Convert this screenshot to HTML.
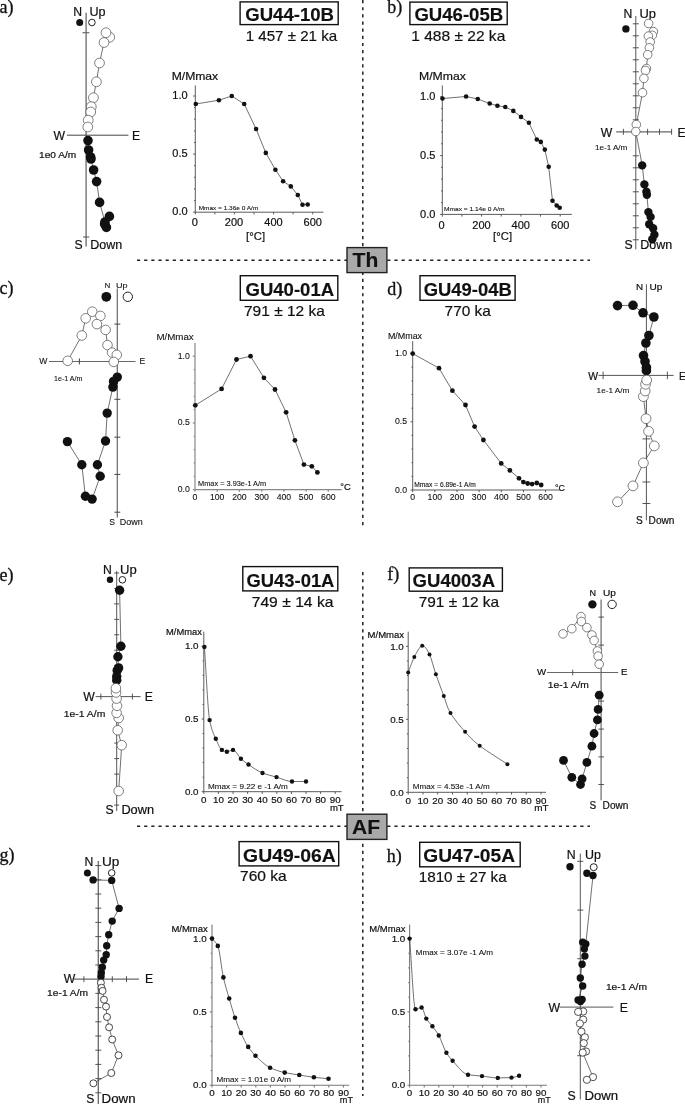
<!DOCTYPE html>
<html lang="en">
<head>
<meta charset="utf-8">
<title>Demagnetization diagrams</title>
<style>
html,body{margin:0;padding:0;background:#fff;}
body{width:685px;height:1104px;overflow:hidden;}
svg{display:block;}
.f{font-family:'Liberation Sans', Arial, Helvetica, sans-serif;}
.r{font-family:'Liberation Serif', 'Times New Roman', serif;}
</style>
</head>
<body>
<svg width="685" height="1104" viewBox="0 0 685 1104">
<rect width="685" height="1104" fill="#fff"/>
<path d="M362.8,0 V529" stroke="#222" stroke-width="1.5" stroke-dasharray="3.2 3.95" fill="none"/>
<path d="M362.8,572 V1096" stroke="#222" stroke-width="1.5" stroke-dasharray="3.2 3.95" fill="none"/>
<path d="M137,260.2 H590" stroke="#222" stroke-width="1.5" stroke-dasharray="3.2 3.95" fill="none"/>
<path d="M137,826.3 H590" stroke="#222" stroke-width="1.5" stroke-dasharray="3.2 3.95" fill="none"/>
<rect x="347" y="247.6" width="39.9" height="25" fill="#a9a9a9" stroke="#222" stroke-width="1.4"/>
<text class="f" x="352.6" y="266.8" font-size="21" font-weight="bold" fill="#111" stroke="#111" stroke-width="0.15">Th</text>
<rect x="347" y="814.2" width="39.9" height="25.2" fill="#a9a9a9" stroke="#222" stroke-width="1.4"/>
<text class="f" x="352.0" y="833.9" font-size="21" font-weight="bold" fill="#111" stroke="#111" stroke-width="0.15">AF</text>
<text class="r" x="-0.6" y="12.8" font-size="18" fill="#111" stroke="#111" stroke-width="0.3">a)</text>
<text class="r" x="387.2" y="12.8" font-size="18" fill="#111" stroke="#111" stroke-width="0.3">b)</text>
<text class="r" x="-0.6" y="294.2" font-size="18" fill="#111" stroke="#111" stroke-width="0.3">c)</text>
<text class="r" x="387.2" y="294.9" font-size="18" fill="#111" stroke="#111" stroke-width="0.3">d)</text>
<text class="r" x="-0.6" y="580.6" font-size="18" fill="#111" stroke="#111" stroke-width="0.3">e)</text>
<text class="r" x="387.2" y="580.3" font-size="18" fill="#111" stroke="#111" stroke-width="0.3">f)</text>
<text class="r" x="-0.6" y="860.6" font-size="18" fill="#111" stroke="#111" stroke-width="0.3">g)</text>
<text class="r" x="386.8" y="861.5" font-size="18" fill="#111" stroke="#111" stroke-width="0.3">h)</text>
<rect x="240.1" y="1.9" width="98.1" height="22.7" fill="#fff" stroke="#111" stroke-width="1.4"/>
<text class="f" x="245.2" y="20.6" font-size="18.6" font-weight="bold" textLength="88.8" lengthAdjust="spacingAndGlyphs" fill="#111" stroke="#111" stroke-width="0.15">GU44-10B</text>
<text class="f" x="245.7" y="40.9" font-size="14.6" textLength="91.5" lengthAdjust="spacingAndGlyphs" fill="#111" stroke="#111" stroke-width="0.2">1 457 ± 21 ka</text>
<rect x="409.9" y="2.1" width="97.3" height="22.5" fill="#fff" stroke="#111" stroke-width="1.4"/>
<text class="f" x="414.4" y="20.6" font-size="18.6" font-weight="bold" textLength="88.8" lengthAdjust="spacingAndGlyphs" fill="#111" stroke="#111" stroke-width="0.15">GU46-05B</text>
<text class="f" x="411.2" y="41.4" font-size="14.6" textLength="94.1" lengthAdjust="spacingAndGlyphs" fill="#111" stroke="#111" stroke-width="0.2">1 488 ± 22 ka</text>
<rect x="240.3" y="275.7" width="97.5" height="24.6" fill="#fff" stroke="#111" stroke-width="1.4"/>
<text class="f" x="245.5" y="295.7" font-size="18.6" font-weight="bold" textLength="88.6" lengthAdjust="spacingAndGlyphs" fill="#111" stroke="#111" stroke-width="0.15">GU40-01A</text>
<text class="f" x="244.0" y="315.6" font-size="14.6" textLength="80.9" lengthAdjust="spacingAndGlyphs" fill="#111" stroke="#111" stroke-width="0.2">791 ± 12 ka</text>
<rect x="420.0" y="275.7" width="95.1" height="24.6" fill="#fff" stroke="#111" stroke-width="1.4"/>
<text class="f" x="423.7" y="295.7" font-size="18.6" font-weight="bold" textLength="88.0" lengthAdjust="spacingAndGlyphs" fill="#111" stroke="#111" stroke-width="0.15">GU49-04B</text>
<text class="f" x="444.6" y="316.2" font-size="14.6" textLength="46.3" lengthAdjust="spacingAndGlyphs" fill="#111" stroke="#111" stroke-width="0.2">770 ka</text>
<rect x="242.8" y="566.6" width="95.0" height="24.3" fill="#fff" stroke="#111" stroke-width="1.4"/>
<text class="f" x="246.5" y="586.6" font-size="18.6" font-weight="bold" textLength="87.9" lengthAdjust="spacingAndGlyphs" fill="#111" stroke="#111" stroke-width="0.15">GU43-01A</text>
<text class="f" x="251.7" y="607.1" font-size="14.6" textLength="81.8" lengthAdjust="spacingAndGlyphs" fill="#111" stroke="#111" stroke-width="0.2">749 ± 14 ka</text>
<rect x="409.2" y="567.9" width="93.2" height="23.3" fill="#fff" stroke="#111" stroke-width="1.4"/>
<text class="f" x="412.6" y="586.6" font-size="18.6" font-weight="bold" textLength="82.5" lengthAdjust="spacingAndGlyphs" fill="#111" stroke="#111" stroke-width="0.15">GU4003A</text>
<text class="f" x="418.7" y="607.1" font-size="14.6" textLength="80.4" lengthAdjust="spacingAndGlyphs" fill="#111" stroke="#111" stroke-width="0.2">791 ± 12 ka</text>
<rect x="239.1" y="841.6" width="99.6" height="24.3" fill="#fff" stroke="#111" stroke-width="1.4"/>
<text class="f" x="243.1" y="861.6" font-size="18.8" font-weight="bold" textLength="92.6" lengthAdjust="spacingAndGlyphs" fill="#111" stroke="#111" stroke-width="0.15">GU49-06A</text>
<text class="f" x="240.0" y="881.2" font-size="14.6" textLength="46.6" lengthAdjust="spacingAndGlyphs" fill="#111" stroke="#111" stroke-width="0.2">760 ka</text>
<rect x="419.7" y="842.3" width="100.5" height="24.5" fill="#fff" stroke="#111" stroke-width="1.4"/>
<text class="f" x="423.3" y="862.2" font-size="18.8" font-weight="bold" textLength="91.7" lengthAdjust="spacingAndGlyphs" fill="#111" stroke="#111" stroke-width="0.15">GU47-05A</text>
<text class="f" x="418.7" y="882.1" font-size="14.6" textLength="88.0" lengthAdjust="spacingAndGlyphs" fill="#111" stroke="#111" stroke-width="0.2">1810 ± 27 ka</text>
<line x1="195.3" y1="85.4" x2="195.3" y2="212.2" stroke="#4a4a4a" stroke-width="0.9"/>
<line x1="195.3" y1="212.2" x2="323.4" y2="212.2" stroke="#4a4a4a" stroke-width="0.9"/>
<line x1="193.1" y1="212.2" x2="195.3" y2="212.2" stroke="#4a4a4a" stroke-width="0.9"/>
<line x1="194.0" y1="200.6" x2="195.3" y2="200.6" stroke="#4a4a4a" stroke-width="0.9"/>
<line x1="194.0" y1="189.0" x2="195.3" y2="189.0" stroke="#4a4a4a" stroke-width="0.9"/>
<line x1="194.0" y1="177.3" x2="195.3" y2="177.3" stroke="#4a4a4a" stroke-width="0.9"/>
<line x1="194.0" y1="165.7" x2="195.3" y2="165.7" stroke="#4a4a4a" stroke-width="0.9"/>
<line x1="193.1" y1="154.1" x2="195.3" y2="154.1" stroke="#4a4a4a" stroke-width="0.9"/>
<line x1="194.0" y1="142.5" x2="195.3" y2="142.5" stroke="#4a4a4a" stroke-width="0.9"/>
<line x1="194.0" y1="130.9" x2="195.3" y2="130.9" stroke="#4a4a4a" stroke-width="0.9"/>
<line x1="194.0" y1="119.2" x2="195.3" y2="119.2" stroke="#4a4a4a" stroke-width="0.9"/>
<line x1="194.0" y1="107.6" x2="195.3" y2="107.6" stroke="#4a4a4a" stroke-width="0.9"/>
<line x1="193.1" y1="96.0" x2="195.3" y2="96.0" stroke="#4a4a4a" stroke-width="0.9"/>
<line x1="195.3" y1="212.2" x2="195.3" y2="214.4" stroke="#4a4a4a" stroke-width="0.9"/>
<line x1="214.9" y1="212.2" x2="214.9" y2="214.4" stroke="#4a4a4a" stroke-width="0.9"/>
<line x1="234.4" y1="212.2" x2="234.4" y2="214.4" stroke="#4a4a4a" stroke-width="0.9"/>
<line x1="254.0" y1="212.2" x2="254.0" y2="214.4" stroke="#4a4a4a" stroke-width="0.9"/>
<line x1="273.6" y1="212.2" x2="273.6" y2="214.4" stroke="#4a4a4a" stroke-width="0.9"/>
<line x1="293.1" y1="212.2" x2="293.1" y2="214.4" stroke="#4a4a4a" stroke-width="0.9"/>
<line x1="312.7" y1="212.2" x2="312.7" y2="214.4" stroke="#4a4a4a" stroke-width="0.9"/>
<text class="f" x="194.8" y="226.3" font-size="11" text-anchor="middle" fill="#111" stroke="#111" stroke-width="0.2">0</text>
<text class="f" x="234.0" y="226.3" font-size="11" text-anchor="middle" fill="#111" stroke="#111" stroke-width="0.2">200</text>
<text class="f" x="273.5" y="226.3" font-size="11" text-anchor="middle" fill="#111" stroke="#111" stroke-width="0.2">400</text>
<text class="f" x="312.7" y="226.3" font-size="11" text-anchor="middle" fill="#111" stroke="#111" stroke-width="0.2">600</text>
<text class="f" x="187.6" y="99.2" font-size="11" text-anchor="end" fill="#111" stroke="#111" stroke-width="0.2">1.0</text>
<text class="f" x="187.6" y="157.3" font-size="11" text-anchor="end" fill="#111" stroke="#111" stroke-width="0.2">0.5</text>
<text class="f" x="187.6" y="215.4" font-size="11" text-anchor="end" fill="#111" stroke="#111" stroke-width="0.2">0.0</text>
<text class="f" x="171.7" y="80.3" font-size="11.0" textLength="46.5" lengthAdjust="spacingAndGlyphs" fill="#111" stroke="#111" stroke-width="0.2">M/Mmax</text>
<text class="f" x="255.6" y="240.0" font-size="11.3" text-anchor="middle" fill="#111" stroke="#111" stroke-width="0.2">[°C]</text>
<text class="f" x="198.7" y="209.7" font-size="6.2" textLength="59.6" lengthAdjust="spacingAndGlyphs" fill="#111" stroke="#111" stroke-width="0.1">Mmax = 1.36e 0 A/m</text>
<polyline points="195.8,104.0 218.9,100.2 231.8,96.0 244.2,104.0 256.1,129.0 265.8,152.9 275.4,169.7 283.1,181.2 290.8,186.4 297.8,195.0 302.5,204.7 307.7,204.5" fill="none" stroke="#333" stroke-width="0.7"/>
<circle cx="195.8" cy="104.0" r="2.3" fill="#111"/>
<circle cx="218.9" cy="100.2" r="2.3" fill="#111"/>
<circle cx="231.8" cy="96.0" r="2.3" fill="#111"/>
<circle cx="244.2" cy="104.0" r="2.3" fill="#111"/>
<circle cx="256.1" cy="129.0" r="2.3" fill="#111"/>
<circle cx="265.8" cy="152.9" r="2.3" fill="#111"/>
<circle cx="275.4" cy="169.7" r="2.3" fill="#111"/>
<circle cx="283.1" cy="181.2" r="2.3" fill="#111"/>
<circle cx="290.8" cy="186.4" r="2.3" fill="#111"/>
<circle cx="297.8" cy="195.0" r="2.3" fill="#111"/>
<circle cx="302.5" cy="204.7" r="2.3" fill="#111"/>
<circle cx="307.7" cy="204.5" r="2.3" fill="#111"/>
<line x1="442.3" y1="85.4" x2="442.3" y2="214.4" stroke="#4a4a4a" stroke-width="0.9"/>
<line x1="442.3" y1="214.4" x2="571.8" y2="214.4" stroke="#4a4a4a" stroke-width="0.9"/>
<line x1="440.1" y1="214.4" x2="442.3" y2="214.4" stroke="#4a4a4a" stroke-width="0.9"/>
<line x1="441.0" y1="202.6" x2="442.3" y2="202.6" stroke="#4a4a4a" stroke-width="0.9"/>
<line x1="441.0" y1="190.9" x2="442.3" y2="190.9" stroke="#4a4a4a" stroke-width="0.9"/>
<line x1="441.0" y1="179.1" x2="442.3" y2="179.1" stroke="#4a4a4a" stroke-width="0.9"/>
<line x1="441.0" y1="167.4" x2="442.3" y2="167.4" stroke="#4a4a4a" stroke-width="0.9"/>
<line x1="440.1" y1="155.6" x2="442.3" y2="155.6" stroke="#4a4a4a" stroke-width="0.9"/>
<line x1="441.0" y1="143.8" x2="442.3" y2="143.8" stroke="#4a4a4a" stroke-width="0.9"/>
<line x1="441.0" y1="132.1" x2="442.3" y2="132.1" stroke="#4a4a4a" stroke-width="0.9"/>
<line x1="441.0" y1="120.3" x2="442.3" y2="120.3" stroke="#4a4a4a" stroke-width="0.9"/>
<line x1="441.0" y1="108.6" x2="442.3" y2="108.6" stroke="#4a4a4a" stroke-width="0.9"/>
<line x1="440.1" y1="96.8" x2="442.3" y2="96.8" stroke="#4a4a4a" stroke-width="0.9"/>
<line x1="442.3" y1="214.4" x2="442.3" y2="216.6" stroke="#4a4a4a" stroke-width="0.9"/>
<line x1="461.9" y1="214.4" x2="461.9" y2="216.6" stroke="#4a4a4a" stroke-width="0.9"/>
<line x1="481.6" y1="214.4" x2="481.6" y2="216.6" stroke="#4a4a4a" stroke-width="0.9"/>
<line x1="501.2" y1="214.4" x2="501.2" y2="216.6" stroke="#4a4a4a" stroke-width="0.9"/>
<line x1="520.9" y1="214.4" x2="520.9" y2="216.6" stroke="#4a4a4a" stroke-width="0.9"/>
<line x1="540.5" y1="214.4" x2="540.5" y2="216.6" stroke="#4a4a4a" stroke-width="0.9"/>
<line x1="560.2" y1="214.4" x2="560.2" y2="216.6" stroke="#4a4a4a" stroke-width="0.9"/>
<text class="f" x="441.5" y="228.8" font-size="11" text-anchor="middle" fill="#111" stroke="#111" stroke-width="0.2">0</text>
<text class="f" x="481.5" y="228.8" font-size="11" text-anchor="middle" fill="#111" stroke="#111" stroke-width="0.2">200</text>
<text class="f" x="520.7" y="228.8" font-size="11" text-anchor="middle" fill="#111" stroke="#111" stroke-width="0.2">400</text>
<text class="f" x="560.2" y="228.8" font-size="11" text-anchor="middle" fill="#111" stroke="#111" stroke-width="0.2">600</text>
<text class="f" x="435.4" y="100.2" font-size="11" text-anchor="end" fill="#111" stroke="#111" stroke-width="0.2">1.0</text>
<text class="f" x="435.4" y="159.0" font-size="11" text-anchor="end" fill="#111" stroke="#111" stroke-width="0.2">0.5</text>
<text class="f" x="435.4" y="217.8" font-size="11" text-anchor="end" fill="#111" stroke="#111" stroke-width="0.2">0.0</text>
<text class="f" x="419.0" y="80.1" font-size="11.0" textLength="46.8" lengthAdjust="spacingAndGlyphs" fill="#111" stroke="#111" stroke-width="0.2">M/Mmax</text>
<text class="f" x="502.6" y="240.0" font-size="11.3" text-anchor="middle" fill="#111" stroke="#111" stroke-width="0.2">[°C]</text>
<text class="f" x="444.0" y="211.4" font-size="6.2" textLength="60.6" lengthAdjust="spacingAndGlyphs" fill="#111" stroke="#111" stroke-width="0.1">Mmax = 1.14e 0 A/m</text>
<polyline points="442.5,98.5 466.1,96.5 477.8,99.0 489.7,103.5 497.4,105.7 505.3,107.0 513.3,110.9 521.0,116.9 528.9,122.8 536.8,139.5 540.8,141.9 544.8,149.6 548.7,166.8 552.5,200.8 556.7,205.5 559.7,207.7" fill="none" stroke="#333" stroke-width="0.7"/>
<circle cx="442.5" cy="98.5" r="2.3" fill="#111"/>
<circle cx="466.1" cy="96.5" r="2.3" fill="#111"/>
<circle cx="477.8" cy="99.0" r="2.3" fill="#111"/>
<circle cx="489.7" cy="103.5" r="2.3" fill="#111"/>
<circle cx="497.4" cy="105.7" r="2.3" fill="#111"/>
<circle cx="505.3" cy="107.0" r="2.3" fill="#111"/>
<circle cx="513.3" cy="110.9" r="2.3" fill="#111"/>
<circle cx="521.0" cy="116.9" r="2.3" fill="#111"/>
<circle cx="528.9" cy="122.8" r="2.3" fill="#111"/>
<circle cx="536.8" cy="139.5" r="2.3" fill="#111"/>
<circle cx="540.8" cy="141.9" r="2.3" fill="#111"/>
<circle cx="544.8" cy="149.6" r="2.3" fill="#111"/>
<circle cx="548.7" cy="166.8" r="2.3" fill="#111"/>
<circle cx="552.5" cy="200.8" r="2.3" fill="#111"/>
<circle cx="556.7" cy="205.5" r="2.3" fill="#111"/>
<circle cx="559.7" cy="207.7" r="2.3" fill="#111"/>
<line x1="195.0" y1="343.1" x2="195.0" y2="489.6" stroke="#888" stroke-width="1.2"/>
<line x1="195.0" y1="489.6" x2="341.7" y2="489.6" stroke="#888" stroke-width="1.2"/>
<line x1="192.8" y1="489.6" x2="195.0" y2="489.6" stroke="#888" stroke-width="1.2"/>
<line x1="193.7" y1="476.3" x2="195.0" y2="476.3" stroke="#888" stroke-width="1.2"/>
<line x1="193.7" y1="462.9" x2="195.0" y2="462.9" stroke="#888" stroke-width="1.2"/>
<line x1="193.7" y1="449.6" x2="195.0" y2="449.6" stroke="#888" stroke-width="1.2"/>
<line x1="193.7" y1="436.3" x2="195.0" y2="436.3" stroke="#888" stroke-width="1.2"/>
<line x1="192.8" y1="423.0" x2="195.0" y2="423.0" stroke="#888" stroke-width="1.2"/>
<line x1="193.7" y1="409.6" x2="195.0" y2="409.6" stroke="#888" stroke-width="1.2"/>
<line x1="193.7" y1="396.3" x2="195.0" y2="396.3" stroke="#888" stroke-width="1.2"/>
<line x1="193.7" y1="383.0" x2="195.0" y2="383.0" stroke="#888" stroke-width="1.2"/>
<line x1="193.7" y1="369.6" x2="195.0" y2="369.6" stroke="#888" stroke-width="1.2"/>
<line x1="192.8" y1="356.3" x2="195.0" y2="356.3" stroke="#888" stroke-width="1.2"/>
<line x1="195.0" y1="489.6" x2="195.0" y2="491.8" stroke="#888" stroke-width="1.2"/>
<line x1="217.2" y1="489.6" x2="217.2" y2="491.8" stroke="#888" stroke-width="1.2"/>
<line x1="239.4" y1="489.6" x2="239.4" y2="491.8" stroke="#888" stroke-width="1.2"/>
<line x1="261.7" y1="489.6" x2="261.7" y2="491.8" stroke="#888" stroke-width="1.2"/>
<line x1="283.9" y1="489.6" x2="283.9" y2="491.8" stroke="#888" stroke-width="1.2"/>
<line x1="306.1" y1="489.6" x2="306.1" y2="491.8" stroke="#888" stroke-width="1.2"/>
<line x1="328.3" y1="489.6" x2="328.3" y2="491.8" stroke="#888" stroke-width="1.2"/>
<text class="f" x="195.0" y="499.9" font-size="8.7" text-anchor="middle" fill="#111" stroke="#111" stroke-width="0.1">0</text>
<text class="f" x="217.2" y="499.9" font-size="8.7" text-anchor="middle" fill="#111" stroke="#111" stroke-width="0.1">100</text>
<text class="f" x="239.4" y="499.9" font-size="8.7" text-anchor="middle" fill="#111" stroke="#111" stroke-width="0.1">200</text>
<text class="f" x="261.7" y="499.9" font-size="8.7" text-anchor="middle" fill="#111" stroke="#111" stroke-width="0.1">300</text>
<text class="f" x="283.9" y="499.9" font-size="8.7" text-anchor="middle" fill="#111" stroke="#111" stroke-width="0.1">400</text>
<text class="f" x="306.1" y="499.9" font-size="8.7" text-anchor="middle" fill="#111" stroke="#111" stroke-width="0.1">500</text>
<text class="f" x="328.3" y="499.9" font-size="8.7" text-anchor="middle" fill="#111" stroke="#111" stroke-width="0.1">600</text>
<text class="f" x="189.8" y="358.7" font-size="8.7" text-anchor="end" fill="#111" stroke="#111" stroke-width="0.1">1.0</text>
<text class="f" x="189.8" y="425.4" font-size="8.7" text-anchor="end" fill="#111" stroke="#111" stroke-width="0.1">0.5</text>
<text class="f" x="189.8" y="492.0" font-size="8.7" text-anchor="end" fill="#111" stroke="#111" stroke-width="0.1">0.0</text>
<text class="f" x="156.4" y="339.8" font-size="8.9" textLength="37.3" lengthAdjust="spacingAndGlyphs" fill="#111" stroke="#111" stroke-width="0.1">M/Mmax</text>
<text class="f" x="340.3" y="490.4" font-size="9.3" textLength="10.5" lengthAdjust="spacingAndGlyphs" fill="#111" stroke="#111" stroke-width="0.2">°C</text>
<text class="f" x="198.1" y="486.0" font-size="6.9" textLength="68.1" lengthAdjust="spacingAndGlyphs" fill="#111" stroke="#111" stroke-width="0.1">Mmax = 3.93e-1 A/m</text>
<polyline points="195.3,405.3 221.6,388.9 236.5,359.5 250.5,356.2 263.9,377.8 275.0,389.5 286.1,412.3 294.9,440.3 303.9,464.6 311.8,466.3 317.4,472.4" fill="none" stroke="#333" stroke-width="0.7"/>
<circle cx="195.3" cy="405.3" r="2.4" fill="#111"/>
<circle cx="221.6" cy="388.9" r="2.4" fill="#111"/>
<circle cx="236.5" cy="359.5" r="2.4" fill="#111"/>
<circle cx="250.5" cy="356.2" r="2.4" fill="#111"/>
<circle cx="263.9" cy="377.8" r="2.4" fill="#111"/>
<circle cx="275.0" cy="389.5" r="2.4" fill="#111"/>
<circle cx="286.1" cy="412.3" r="2.4" fill="#111"/>
<circle cx="294.9" cy="440.3" r="2.4" fill="#111"/>
<circle cx="303.9" cy="464.6" r="2.4" fill="#111"/>
<circle cx="311.8" cy="466.3" r="2.4" fill="#111"/>
<circle cx="317.4" cy="472.4" r="2.4" fill="#111"/>
<line x1="412.7" y1="341.0" x2="412.7" y2="490.0" stroke="#4a4a4a" stroke-width="0.9"/>
<line x1="412.7" y1="490.0" x2="559.6" y2="490.0" stroke="#4a4a4a" stroke-width="0.9"/>
<line x1="410.5" y1="490.0" x2="412.7" y2="490.0" stroke="#4a4a4a" stroke-width="0.9"/>
<line x1="411.4" y1="476.4" x2="412.7" y2="476.4" stroke="#4a4a4a" stroke-width="0.9"/>
<line x1="411.4" y1="462.7" x2="412.7" y2="462.7" stroke="#4a4a4a" stroke-width="0.9"/>
<line x1="411.4" y1="449.1" x2="412.7" y2="449.1" stroke="#4a4a4a" stroke-width="0.9"/>
<line x1="411.4" y1="435.4" x2="412.7" y2="435.4" stroke="#4a4a4a" stroke-width="0.9"/>
<line x1="410.5" y1="421.8" x2="412.7" y2="421.8" stroke="#4a4a4a" stroke-width="0.9"/>
<line x1="411.4" y1="408.2" x2="412.7" y2="408.2" stroke="#4a4a4a" stroke-width="0.9"/>
<line x1="411.4" y1="394.5" x2="412.7" y2="394.5" stroke="#4a4a4a" stroke-width="0.9"/>
<line x1="411.4" y1="380.9" x2="412.7" y2="380.9" stroke="#4a4a4a" stroke-width="0.9"/>
<line x1="411.4" y1="367.2" x2="412.7" y2="367.2" stroke="#4a4a4a" stroke-width="0.9"/>
<line x1="410.5" y1="353.6" x2="412.7" y2="353.6" stroke="#4a4a4a" stroke-width="0.9"/>
<line x1="412.7" y1="490.0" x2="412.7" y2="492.2" stroke="#4a4a4a" stroke-width="0.9"/>
<line x1="434.8" y1="490.0" x2="434.8" y2="492.2" stroke="#4a4a4a" stroke-width="0.9"/>
<line x1="457.0" y1="490.0" x2="457.0" y2="492.2" stroke="#4a4a4a" stroke-width="0.9"/>
<line x1="479.1" y1="490.0" x2="479.1" y2="492.2" stroke="#4a4a4a" stroke-width="0.9"/>
<line x1="501.3" y1="490.0" x2="501.3" y2="492.2" stroke="#4a4a4a" stroke-width="0.9"/>
<line x1="523.5" y1="490.0" x2="523.5" y2="492.2" stroke="#4a4a4a" stroke-width="0.9"/>
<line x1="545.6" y1="490.0" x2="545.6" y2="492.2" stroke="#4a4a4a" stroke-width="0.9"/>
<text class="f" x="412.7" y="500.4" font-size="8.7" text-anchor="middle" fill="#111" stroke="#111" stroke-width="0.1">0</text>
<text class="f" x="434.8" y="500.4" font-size="8.7" text-anchor="middle" fill="#111" stroke="#111" stroke-width="0.1">100</text>
<text class="f" x="457.0" y="500.4" font-size="8.7" text-anchor="middle" fill="#111" stroke="#111" stroke-width="0.1">200</text>
<text class="f" x="479.1" y="500.4" font-size="8.7" text-anchor="middle" fill="#111" stroke="#111" stroke-width="0.1">300</text>
<text class="f" x="501.3" y="500.4" font-size="8.7" text-anchor="middle" fill="#111" stroke="#111" stroke-width="0.1">400</text>
<text class="f" x="523.5" y="500.4" font-size="8.7" text-anchor="middle" fill="#111" stroke="#111" stroke-width="0.1">500</text>
<text class="f" x="545.6" y="500.4" font-size="8.7" text-anchor="middle" fill="#111" stroke="#111" stroke-width="0.1">600</text>
<text class="f" x="407.1" y="356.1" font-size="8.7" text-anchor="end" fill="#111" stroke="#111" stroke-width="0.1">1.0</text>
<text class="f" x="407.1" y="424.3" font-size="8.7" text-anchor="end" fill="#111" stroke="#111" stroke-width="0.1">0.5</text>
<text class="f" x="407.1" y="492.5" font-size="8.7" text-anchor="end" fill="#111" stroke="#111" stroke-width="0.1">0.0</text>
<text class="f" x="387.9" y="339.0" font-size="8.4" textLength="34.2" lengthAdjust="spacingAndGlyphs" fill="#111" stroke="#111" stroke-width="0.1">M/Mmax</text>
<text class="f" x="554.9" y="491.4" font-size="9.3" textLength="9.9" lengthAdjust="spacingAndGlyphs" fill="#111" stroke="#111" stroke-width="0.2">°C</text>
<text class="f" x="414.2" y="487.0" font-size="6.4" textLength="61.6" lengthAdjust="spacingAndGlyphs" fill="#111" stroke="#111" stroke-width="0.1">Mmax = 6.89e-1 A/m</text>
<polyline points="412.7,353.6 439.0,368.2 452.4,390.7 465.5,405.0 474.6,426.6 483.4,440.0 501.2,463.4 509.9,470.4 519.0,478.3 523.4,482.1 527.7,483.5 532.1,484.1 536.8,483.0 541.2,485.0" fill="none" stroke="#333" stroke-width="0.7"/>
<circle cx="412.7" cy="353.6" r="2.4" fill="#111"/>
<circle cx="439.0" cy="368.2" r="2.4" fill="#111"/>
<circle cx="452.4" cy="390.7" r="2.4" fill="#111"/>
<circle cx="465.5" cy="405.0" r="2.4" fill="#111"/>
<circle cx="474.6" cy="426.6" r="2.4" fill="#111"/>
<circle cx="483.4" cy="440.0" r="2.4" fill="#111"/>
<circle cx="501.2" cy="463.4" r="2.4" fill="#111"/>
<circle cx="509.9" cy="470.4" r="2.4" fill="#111"/>
<circle cx="519.0" cy="478.3" r="2.4" fill="#111"/>
<circle cx="523.4" cy="482.1" r="2.4" fill="#111"/>
<circle cx="527.7" cy="483.5" r="2.4" fill="#111"/>
<circle cx="532.1" cy="484.1" r="2.4" fill="#111"/>
<circle cx="536.8" cy="483.0" r="2.4" fill="#111"/>
<circle cx="541.2" cy="485.0" r="2.4" fill="#111"/>
<line x1="203.8" y1="631.7" x2="203.8" y2="791.7" stroke="#4a4a4a" stroke-width="0.9"/>
<line x1="203.8" y1="791.7" x2="341.6" y2="791.7" stroke="#4a4a4a" stroke-width="0.9"/>
<line x1="201.6" y1="791.7" x2="203.8" y2="791.7" stroke="#4a4a4a" stroke-width="0.9"/>
<line x1="202.5" y1="777.2" x2="203.8" y2="777.2" stroke="#4a4a4a" stroke-width="0.9"/>
<line x1="202.5" y1="762.6" x2="203.8" y2="762.6" stroke="#4a4a4a" stroke-width="0.9"/>
<line x1="202.5" y1="748.1" x2="203.8" y2="748.1" stroke="#4a4a4a" stroke-width="0.9"/>
<line x1="202.5" y1="733.5" x2="203.8" y2="733.5" stroke="#4a4a4a" stroke-width="0.9"/>
<line x1="201.6" y1="719.0" x2="203.8" y2="719.0" stroke="#4a4a4a" stroke-width="0.9"/>
<line x1="202.5" y1="704.5" x2="203.8" y2="704.5" stroke="#4a4a4a" stroke-width="0.9"/>
<line x1="202.5" y1="689.9" x2="203.8" y2="689.9" stroke="#4a4a4a" stroke-width="0.9"/>
<line x1="202.5" y1="675.4" x2="203.8" y2="675.4" stroke="#4a4a4a" stroke-width="0.9"/>
<line x1="202.5" y1="660.8" x2="203.8" y2="660.8" stroke="#4a4a4a" stroke-width="0.9"/>
<line x1="201.6" y1="646.3" x2="203.8" y2="646.3" stroke="#4a4a4a" stroke-width="0.9"/>
<line x1="203.8" y1="791.7" x2="203.8" y2="793.9" stroke="#4a4a4a" stroke-width="0.9"/>
<line x1="218.4" y1="791.7" x2="218.4" y2="793.9" stroke="#4a4a4a" stroke-width="0.9"/>
<line x1="233.0" y1="791.7" x2="233.0" y2="793.9" stroke="#4a4a4a" stroke-width="0.9"/>
<line x1="247.6" y1="791.7" x2="247.6" y2="793.9" stroke="#4a4a4a" stroke-width="0.9"/>
<line x1="262.2" y1="791.7" x2="262.2" y2="793.9" stroke="#4a4a4a" stroke-width="0.9"/>
<line x1="276.8" y1="791.7" x2="276.8" y2="793.9" stroke="#4a4a4a" stroke-width="0.9"/>
<line x1="291.4" y1="791.7" x2="291.4" y2="793.9" stroke="#4a4a4a" stroke-width="0.9"/>
<line x1="306.0" y1="791.7" x2="306.0" y2="793.9" stroke="#4a4a4a" stroke-width="0.9"/>
<line x1="320.6" y1="791.7" x2="320.6" y2="793.9" stroke="#4a4a4a" stroke-width="0.9"/>
<line x1="335.2" y1="791.7" x2="335.2" y2="793.9" stroke="#4a4a4a" stroke-width="0.9"/>
<text class="f" x="203.8" y="802.9" font-size="9.8" text-anchor="middle" fill="#111" stroke="#111" stroke-width="0.2">0</text>
<text class="f" x="218.4" y="802.9" font-size="9.8" text-anchor="middle" fill="#111" stroke="#111" stroke-width="0.2">10</text>
<text class="f" x="233.0" y="802.9" font-size="9.8" text-anchor="middle" fill="#111" stroke="#111" stroke-width="0.2">20</text>
<text class="f" x="247.6" y="802.9" font-size="9.8" text-anchor="middle" fill="#111" stroke="#111" stroke-width="0.2">30</text>
<text class="f" x="262.2" y="802.9" font-size="9.8" text-anchor="middle" fill="#111" stroke="#111" stroke-width="0.2">40</text>
<text class="f" x="276.8" y="802.9" font-size="9.8" text-anchor="middle" fill="#111" stroke="#111" stroke-width="0.2">50</text>
<text class="f" x="291.4" y="802.9" font-size="9.8" text-anchor="middle" fill="#111" stroke="#111" stroke-width="0.2">60</text>
<text class="f" x="306.0" y="802.9" font-size="9.8" text-anchor="middle" fill="#111" stroke="#111" stroke-width="0.2">70</text>
<text class="f" x="320.6" y="802.9" font-size="9.8" text-anchor="middle" fill="#111" stroke="#111" stroke-width="0.2">80</text>
<text class="f" x="335.2" y="802.9" font-size="9.8" text-anchor="middle" fill="#111" stroke="#111" stroke-width="0.2">90</text>
<text class="f" x="198.5" y="649.4" font-size="9.8" text-anchor="end" fill="#111" stroke="#111" stroke-width="0.2">1.0</text>
<text class="f" x="198.5" y="722.1" font-size="9.8" text-anchor="end" fill="#111" stroke="#111" stroke-width="0.2">0.5</text>
<text class="f" x="198.5" y="794.8" font-size="9.8" text-anchor="end" fill="#111" stroke="#111" stroke-width="0.2">0.0</text>
<text class="f" x="166.1" y="634.6" font-size="9.4" textLength="35.8" lengthAdjust="spacingAndGlyphs" fill="#111" stroke="#111" stroke-width="0.2">M/Mmax</text>
<text class="f" x="329.9" y="811.2" font-size="9.6" textLength="13.8" lengthAdjust="spacingAndGlyphs" fill="#111" stroke="#111" stroke-width="0.2">mT</text>
<text class="f" x="207.9" y="789.3" font-size="7.9" textLength="80.0" lengthAdjust="spacingAndGlyphs" fill="#111" stroke="#111" stroke-width="0.1">Mmax = 9.22 e -1 A/m</text>
<path d="M204.4,646.9 C206.1,671.3 207.9,711.3 209.6,720.1 C211.7,730.6 213.7,734.1 215.8,738.8 C217.8,743.4 219.9,748.7 221.9,749.9 C223.6,750.9 225.2,751.7 226.9,751.7 C228.9,751.7 231.0,749.9 233.0,749.9 C235.6,749.9 238.3,756.3 240.9,758.7 C243.4,761.0 246.0,762.8 248.5,764.5 C253.2,767.7 257.8,771.2 262.5,773.0 C267.2,774.8 271.8,775.8 276.5,777.1 C281.7,778.6 286.8,781.5 292.0,781.5 C296.7,781.5 301.3,781.5 306.0,781.5" fill="none" stroke="#333" stroke-width="0.7"/>
<circle cx="204.4" cy="646.9" r="2.2" fill="#111"/>
<circle cx="209.6" cy="720.1" r="2.2" fill="#111"/>
<circle cx="215.8" cy="738.8" r="2.2" fill="#111"/>
<circle cx="221.9" cy="749.9" r="2.2" fill="#111"/>
<circle cx="226.9" cy="751.7" r="2.2" fill="#111"/>
<circle cx="233.0" cy="749.9" r="2.2" fill="#111"/>
<circle cx="240.9" cy="758.7" r="2.2" fill="#111"/>
<circle cx="248.5" cy="764.5" r="2.2" fill="#111"/>
<circle cx="262.5" cy="773.0" r="2.2" fill="#111"/>
<circle cx="276.5" cy="777.1" r="2.2" fill="#111"/>
<circle cx="292.0" cy="781.5" r="2.2" fill="#111"/>
<circle cx="306.0" cy="781.5" r="2.2" fill="#111"/>
<line x1="408.2" y1="631.7" x2="408.2" y2="792.3" stroke="#4a4a4a" stroke-width="0.9"/>
<line x1="408.2" y1="792.3" x2="546.0" y2="792.3" stroke="#4a4a4a" stroke-width="0.9"/>
<line x1="406.0" y1="792.3" x2="408.2" y2="792.3" stroke="#4a4a4a" stroke-width="0.9"/>
<line x1="406.9" y1="777.7" x2="408.2" y2="777.7" stroke="#4a4a4a" stroke-width="0.9"/>
<line x1="406.9" y1="763.1" x2="408.2" y2="763.1" stroke="#4a4a4a" stroke-width="0.9"/>
<line x1="406.9" y1="748.5" x2="408.2" y2="748.5" stroke="#4a4a4a" stroke-width="0.9"/>
<line x1="406.9" y1="733.9" x2="408.2" y2="733.9" stroke="#4a4a4a" stroke-width="0.9"/>
<line x1="406.0" y1="719.3" x2="408.2" y2="719.3" stroke="#4a4a4a" stroke-width="0.9"/>
<line x1="406.9" y1="704.7" x2="408.2" y2="704.7" stroke="#4a4a4a" stroke-width="0.9"/>
<line x1="406.9" y1="690.1" x2="408.2" y2="690.1" stroke="#4a4a4a" stroke-width="0.9"/>
<line x1="406.9" y1="675.5" x2="408.2" y2="675.5" stroke="#4a4a4a" stroke-width="0.9"/>
<line x1="406.9" y1="660.9" x2="408.2" y2="660.9" stroke="#4a4a4a" stroke-width="0.9"/>
<line x1="406.0" y1="646.3" x2="408.2" y2="646.3" stroke="#4a4a4a" stroke-width="0.9"/>
<line x1="408.2" y1="792.3" x2="408.2" y2="794.5" stroke="#4a4a4a" stroke-width="0.9"/>
<line x1="423.0" y1="792.3" x2="423.0" y2="794.5" stroke="#4a4a4a" stroke-width="0.9"/>
<line x1="437.7" y1="792.3" x2="437.7" y2="794.5" stroke="#4a4a4a" stroke-width="0.9"/>
<line x1="452.5" y1="792.3" x2="452.5" y2="794.5" stroke="#4a4a4a" stroke-width="0.9"/>
<line x1="467.2" y1="792.3" x2="467.2" y2="794.5" stroke="#4a4a4a" stroke-width="0.9"/>
<line x1="482.0" y1="792.3" x2="482.0" y2="794.5" stroke="#4a4a4a" stroke-width="0.9"/>
<line x1="496.8" y1="792.3" x2="496.8" y2="794.5" stroke="#4a4a4a" stroke-width="0.9"/>
<line x1="511.5" y1="792.3" x2="511.5" y2="794.5" stroke="#4a4a4a" stroke-width="0.9"/>
<line x1="526.3" y1="792.3" x2="526.3" y2="794.5" stroke="#4a4a4a" stroke-width="0.9"/>
<line x1="541.0" y1="792.3" x2="541.0" y2="794.5" stroke="#4a4a4a" stroke-width="0.9"/>
<text class="f" x="408.2" y="803.6" font-size="9.8" text-anchor="middle" fill="#111" stroke="#111" stroke-width="0.2">0</text>
<text class="f" x="423.0" y="803.6" font-size="9.8" text-anchor="middle" fill="#111" stroke="#111" stroke-width="0.2">10</text>
<text class="f" x="437.7" y="803.6" font-size="9.8" text-anchor="middle" fill="#111" stroke="#111" stroke-width="0.2">20</text>
<text class="f" x="452.5" y="803.6" font-size="9.8" text-anchor="middle" fill="#111" stroke="#111" stroke-width="0.2">30</text>
<text class="f" x="467.2" y="803.6" font-size="9.8" text-anchor="middle" fill="#111" stroke="#111" stroke-width="0.2">40</text>
<text class="f" x="482.0" y="803.6" font-size="9.8" text-anchor="middle" fill="#111" stroke="#111" stroke-width="0.2">50</text>
<text class="f" x="496.8" y="803.6" font-size="9.8" text-anchor="middle" fill="#111" stroke="#111" stroke-width="0.2">60</text>
<text class="f" x="511.5" y="803.6" font-size="9.8" text-anchor="middle" fill="#111" stroke="#111" stroke-width="0.2">70</text>
<text class="f" x="526.3" y="803.6" font-size="9.8" text-anchor="middle" fill="#111" stroke="#111" stroke-width="0.2">80</text>
<text class="f" x="541.0" y="803.6" font-size="9.8" text-anchor="middle" fill="#111" stroke="#111" stroke-width="0.2">90</text>
<text class="f" x="403.8" y="649.6" font-size="9.8" text-anchor="end" fill="#111" stroke="#111" stroke-width="0.2">1.0</text>
<text class="f" x="403.8" y="722.6" font-size="9.8" text-anchor="end" fill="#111" stroke="#111" stroke-width="0.2">0.5</text>
<text class="f" x="403.8" y="795.6" font-size="9.8" text-anchor="end" fill="#111" stroke="#111" stroke-width="0.2">0.0</text>
<text class="f" x="367.6" y="638.1" font-size="9.5" textLength="36.5" lengthAdjust="spacingAndGlyphs" fill="#111" stroke="#111" stroke-width="0.2">M/Mmax</text>
<text class="f" x="534.3" y="811.2" font-size="9.6" textLength="14.3" lengthAdjust="spacingAndGlyphs" fill="#111" stroke="#111" stroke-width="0.2">mT</text>
<text class="f" x="412.8" y="789.3" font-size="7.9" textLength="76.8" lengthAdjust="spacingAndGlyphs" fill="#111" stroke="#111" stroke-width="0.1">Mmax = 4.53e -1 A/m</text>
<path d="M408.2,672.6 C409.2,670.0 412.0,661.6 414.3,657.1 C416.6,652.6 419.7,646.1 422.2,645.7 C424.7,645.3 427.2,649.7 429.5,654.5 C431.8,659.3 433.5,667.4 435.9,674.3 C438.3,681.2 441.4,689.4 443.8,695.9 C446.2,702.4 446.9,707.1 450.5,713.1 C454.1,719.1 460.2,726.3 465.1,731.8 C470.0,737.2 472.6,740.4 479.7,745.8 C486.8,751.2 502.8,761.1 507.4,764.2" fill="none" stroke="#333" stroke-width="0.7"/>
<circle cx="408.2" cy="672.6" r="2.0" fill="#111"/>
<circle cx="414.3" cy="657.1" r="2.0" fill="#111"/>
<circle cx="422.2" cy="645.7" r="2.0" fill="#111"/>
<circle cx="429.5" cy="654.5" r="2.0" fill="#111"/>
<circle cx="435.9" cy="674.3" r="2.0" fill="#111"/>
<circle cx="443.8" cy="695.9" r="2.0" fill="#111"/>
<circle cx="450.5" cy="713.1" r="2.0" fill="#111"/>
<circle cx="465.1" cy="731.8" r="2.0" fill="#111"/>
<circle cx="479.7" cy="745.8" r="2.0" fill="#111"/>
<circle cx="507.4" cy="764.2" r="2.0" fill="#111"/>
<line x1="212.0" y1="924.6" x2="212.0" y2="1085.2" stroke="#777" stroke-width="1.1"/>
<line x1="212.0" y1="1085.2" x2="349.2" y2="1085.2" stroke="#777" stroke-width="1.1"/>
<line x1="209.8" y1="1085.2" x2="212.0" y2="1085.2" stroke="#777" stroke-width="1.1"/>
<line x1="210.7" y1="1070.5" x2="212.0" y2="1070.5" stroke="#777" stroke-width="1.1"/>
<line x1="210.7" y1="1055.9" x2="212.0" y2="1055.9" stroke="#777" stroke-width="1.1"/>
<line x1="210.7" y1="1041.2" x2="212.0" y2="1041.2" stroke="#777" stroke-width="1.1"/>
<line x1="210.7" y1="1026.6" x2="212.0" y2="1026.6" stroke="#777" stroke-width="1.1"/>
<line x1="209.8" y1="1011.9" x2="212.0" y2="1011.9" stroke="#777" stroke-width="1.1"/>
<line x1="210.7" y1="997.2" x2="212.0" y2="997.2" stroke="#777" stroke-width="1.1"/>
<line x1="210.7" y1="982.6" x2="212.0" y2="982.6" stroke="#777" stroke-width="1.1"/>
<line x1="210.7" y1="967.9" x2="212.0" y2="967.9" stroke="#777" stroke-width="1.1"/>
<line x1="210.7" y1="953.3" x2="212.0" y2="953.3" stroke="#777" stroke-width="1.1"/>
<line x1="209.8" y1="938.6" x2="212.0" y2="938.6" stroke="#777" stroke-width="1.1"/>
<line x1="212.0" y1="1085.2" x2="212.0" y2="1087.4" stroke="#777" stroke-width="1.1"/>
<line x1="226.6" y1="1085.2" x2="226.6" y2="1087.4" stroke="#777" stroke-width="1.1"/>
<line x1="241.2" y1="1085.2" x2="241.2" y2="1087.4" stroke="#777" stroke-width="1.1"/>
<line x1="255.8" y1="1085.2" x2="255.8" y2="1087.4" stroke="#777" stroke-width="1.1"/>
<line x1="270.4" y1="1085.2" x2="270.4" y2="1087.4" stroke="#777" stroke-width="1.1"/>
<line x1="285.0" y1="1085.2" x2="285.0" y2="1087.4" stroke="#777" stroke-width="1.1"/>
<line x1="299.6" y1="1085.2" x2="299.6" y2="1087.4" stroke="#777" stroke-width="1.1"/>
<line x1="314.2" y1="1085.2" x2="314.2" y2="1087.4" stroke="#777" stroke-width="1.1"/>
<line x1="328.8" y1="1085.2" x2="328.8" y2="1087.4" stroke="#777" stroke-width="1.1"/>
<line x1="343.4" y1="1085.2" x2="343.4" y2="1087.4" stroke="#777" stroke-width="1.1"/>
<text class="f" x="212.0" y="1096.3" font-size="9.8" text-anchor="middle" fill="#111" stroke="#111" stroke-width="0.2">0</text>
<text class="f" x="226.6" y="1096.3" font-size="9.8" text-anchor="middle" fill="#111" stroke="#111" stroke-width="0.2">10</text>
<text class="f" x="241.2" y="1096.3" font-size="9.8" text-anchor="middle" fill="#111" stroke="#111" stroke-width="0.2">20</text>
<text class="f" x="255.8" y="1096.3" font-size="9.8" text-anchor="middle" fill="#111" stroke="#111" stroke-width="0.2">30</text>
<text class="f" x="270.4" y="1096.3" font-size="9.8" text-anchor="middle" fill="#111" stroke="#111" stroke-width="0.2">40</text>
<text class="f" x="285.0" y="1096.3" font-size="9.8" text-anchor="middle" fill="#111" stroke="#111" stroke-width="0.2">50</text>
<text class="f" x="299.6" y="1096.3" font-size="9.8" text-anchor="middle" fill="#111" stroke="#111" stroke-width="0.2">60</text>
<text class="f" x="314.2" y="1096.3" font-size="9.8" text-anchor="middle" fill="#111" stroke="#111" stroke-width="0.2">70</text>
<text class="f" x="328.8" y="1096.3" font-size="9.8" text-anchor="middle" fill="#111" stroke="#111" stroke-width="0.2">80</text>
<text class="f" x="343.4" y="1096.3" font-size="9.8" text-anchor="middle" fill="#111" stroke="#111" stroke-width="0.2">90</text>
<text class="f" x="206.7" y="941.7" font-size="9.8" text-anchor="end" fill="#111" stroke="#111" stroke-width="0.2">1.0</text>
<text class="f" x="206.7" y="1015.0" font-size="9.8" text-anchor="end" fill="#111" stroke="#111" stroke-width="0.2">0.5</text>
<text class="f" x="206.7" y="1088.3" font-size="9.8" text-anchor="end" fill="#111" stroke="#111" stroke-width="0.2">0.0</text>
<text class="f" x="171.4" y="931.9" font-size="9.4" textLength="36.3" lengthAdjust="spacingAndGlyphs" fill="#111" stroke="#111" stroke-width="0.2">M/Mmax</text>
<text class="f" x="339.8" y="1103.3" font-size="9.6" textLength="13.2" lengthAdjust="spacingAndGlyphs" fill="#111" stroke="#111" stroke-width="0.2">mT</text>
<text class="f" x="216.6" y="1081.7" font-size="7.9" textLength="74.5" lengthAdjust="spacingAndGlyphs" fill="#111" stroke="#111" stroke-width="0.1">Mmax = 1.01e 0 A/m</text>
<path d="M212.0,938.6 C213.9,941.0 215.9,941.9 217.8,945.9 C219.7,949.8 221.5,969.1 223.4,977.4 C225.3,986.0 227.3,991.8 229.2,998.5 C231.1,1005.2 233.1,1012.1 235.0,1017.7 C237.0,1023.4 238.9,1028.6 240.9,1032.9 C243.3,1038.3 245.8,1043.3 248.2,1046.9 C250.6,1050.5 253.1,1053.3 255.5,1055.7 C260.4,1060.6 265.2,1065.4 270.1,1067.7 C275.0,1070.0 279.8,1071.5 284.7,1072.6 C289.6,1073.7 294.4,1074.2 299.3,1075.0 C304.2,1075.8 309.0,1076.7 313.9,1077.3 C318.8,1077.9 323.6,1078.3 328.5,1078.8" fill="none" stroke="#333" stroke-width="0.7"/>
<circle cx="212.0" cy="938.6" r="2.3" fill="#111"/>
<circle cx="217.8" cy="945.9" r="2.3" fill="#111"/>
<circle cx="223.4" cy="977.4" r="2.3" fill="#111"/>
<circle cx="229.2" cy="998.5" r="2.3" fill="#111"/>
<circle cx="235.0" cy="1017.7" r="2.3" fill="#111"/>
<circle cx="240.9" cy="1032.9" r="2.3" fill="#111"/>
<circle cx="248.2" cy="1046.9" r="2.3" fill="#111"/>
<circle cx="255.5" cy="1055.7" r="2.3" fill="#111"/>
<circle cx="270.1" cy="1067.7" r="2.3" fill="#111"/>
<circle cx="284.7" cy="1072.6" r="2.3" fill="#111"/>
<circle cx="299.3" cy="1075.0" r="2.3" fill="#111"/>
<circle cx="313.9" cy="1077.3" r="2.3" fill="#111"/>
<circle cx="328.5" cy="1078.8" r="2.3" fill="#111"/>
<line x1="409.6" y1="924.6" x2="409.6" y2="1085.2" stroke="#777" stroke-width="1.1"/>
<line x1="409.6" y1="1085.2" x2="546.9" y2="1085.2" stroke="#777" stroke-width="1.1"/>
<line x1="407.4" y1="1085.2" x2="409.6" y2="1085.2" stroke="#777" stroke-width="1.1"/>
<line x1="408.3" y1="1070.5" x2="409.6" y2="1070.5" stroke="#777" stroke-width="1.1"/>
<line x1="408.3" y1="1055.9" x2="409.6" y2="1055.9" stroke="#777" stroke-width="1.1"/>
<line x1="408.3" y1="1041.2" x2="409.6" y2="1041.2" stroke="#777" stroke-width="1.1"/>
<line x1="408.3" y1="1026.6" x2="409.6" y2="1026.6" stroke="#777" stroke-width="1.1"/>
<line x1="407.4" y1="1011.9" x2="409.6" y2="1011.9" stroke="#777" stroke-width="1.1"/>
<line x1="408.3" y1="997.2" x2="409.6" y2="997.2" stroke="#777" stroke-width="1.1"/>
<line x1="408.3" y1="982.6" x2="409.6" y2="982.6" stroke="#777" stroke-width="1.1"/>
<line x1="408.3" y1="967.9" x2="409.6" y2="967.9" stroke="#777" stroke-width="1.1"/>
<line x1="408.3" y1="953.3" x2="409.6" y2="953.3" stroke="#777" stroke-width="1.1"/>
<line x1="407.4" y1="938.6" x2="409.6" y2="938.6" stroke="#777" stroke-width="1.1"/>
<line x1="409.6" y1="1085.2" x2="409.6" y2="1087.4" stroke="#777" stroke-width="1.1"/>
<line x1="424.2" y1="1085.2" x2="424.2" y2="1087.4" stroke="#777" stroke-width="1.1"/>
<line x1="438.8" y1="1085.2" x2="438.8" y2="1087.4" stroke="#777" stroke-width="1.1"/>
<line x1="453.4" y1="1085.2" x2="453.4" y2="1087.4" stroke="#777" stroke-width="1.1"/>
<line x1="468.0" y1="1085.2" x2="468.0" y2="1087.4" stroke="#777" stroke-width="1.1"/>
<line x1="482.6" y1="1085.2" x2="482.6" y2="1087.4" stroke="#777" stroke-width="1.1"/>
<line x1="497.2" y1="1085.2" x2="497.2" y2="1087.4" stroke="#777" stroke-width="1.1"/>
<line x1="511.8" y1="1085.2" x2="511.8" y2="1087.4" stroke="#777" stroke-width="1.1"/>
<line x1="526.4" y1="1085.2" x2="526.4" y2="1087.4" stroke="#777" stroke-width="1.1"/>
<line x1="541.0" y1="1085.2" x2="541.0" y2="1087.4" stroke="#777" stroke-width="1.1"/>
<text class="f" x="409.6" y="1096.3" font-size="9.8" text-anchor="middle" fill="#111" stroke="#111" stroke-width="0.2">0</text>
<text class="f" x="424.2" y="1096.3" font-size="9.8" text-anchor="middle" fill="#111" stroke="#111" stroke-width="0.2">10</text>
<text class="f" x="438.8" y="1096.3" font-size="9.8" text-anchor="middle" fill="#111" stroke="#111" stroke-width="0.2">20</text>
<text class="f" x="453.4" y="1096.3" font-size="9.8" text-anchor="middle" fill="#111" stroke="#111" stroke-width="0.2">30</text>
<text class="f" x="468.0" y="1096.3" font-size="9.8" text-anchor="middle" fill="#111" stroke="#111" stroke-width="0.2">40</text>
<text class="f" x="482.6" y="1096.3" font-size="9.8" text-anchor="middle" fill="#111" stroke="#111" stroke-width="0.2">50</text>
<text class="f" x="497.2" y="1096.3" font-size="9.8" text-anchor="middle" fill="#111" stroke="#111" stroke-width="0.2">60</text>
<text class="f" x="511.8" y="1096.3" font-size="9.8" text-anchor="middle" fill="#111" stroke="#111" stroke-width="0.2">70</text>
<text class="f" x="526.4" y="1096.3" font-size="9.8" text-anchor="middle" fill="#111" stroke="#111" stroke-width="0.2">80</text>
<text class="f" x="541.0" y="1096.3" font-size="9.8" text-anchor="middle" fill="#111" stroke="#111" stroke-width="0.2">90</text>
<text class="f" x="405.3" y="941.7" font-size="9.8" text-anchor="end" fill="#111" stroke="#111" stroke-width="0.2">1.0</text>
<text class="f" x="405.3" y="1015.0" font-size="9.8" text-anchor="end" fill="#111" stroke="#111" stroke-width="0.2">0.5</text>
<text class="f" x="405.3" y="1088.3" font-size="9.8" text-anchor="end" fill="#111" stroke="#111" stroke-width="0.2">0.0</text>
<text class="f" x="369.3" y="931.9" font-size="9.4" textLength="36.3" lengthAdjust="spacingAndGlyphs" fill="#111" stroke="#111" stroke-width="0.2">M/Mmax</text>
<text class="f" x="537.8" y="1103.3" font-size="9.6" textLength="12.9" lengthAdjust="spacingAndGlyphs" fill="#111" stroke="#111" stroke-width="0.2">mT</text>
<text class="f" x="415.8" y="955.3" font-size="7.9" textLength="77.3" lengthAdjust="spacingAndGlyphs" fill="#111" stroke="#111" stroke-width="0.1">Mmax = 3.07e -1 A/m</text>
<path d="M409.6,938.6 C411.6,962.2 413.5,1009.3 415.5,1009.3 C417.5,1009.3 419.6,1007.5 421.6,1007.5 C423.2,1007.5 424.7,1016.0 426.3,1018.6 C428.3,1022.0 430.4,1023.5 432.4,1026.2 C434.5,1029.1 436.7,1031.7 438.8,1035.5 C441.3,1040.0 443.9,1048.7 446.4,1052.8 C448.5,1056.1 450.5,1058.5 452.6,1060.7 C457.7,1066.3 462.9,1073.8 468.0,1074.7 C472.7,1075.5 477.3,1075.6 482.0,1076.1 C487.3,1076.7 492.5,1077.9 497.8,1077.9 C502.4,1077.9 506.9,1077.8 511.5,1077.6 C514.0,1077.5 516.6,1076.4 519.1,1075.8" fill="none" stroke="#333" stroke-width="0.7"/>
<circle cx="409.6" cy="938.6" r="2.2" fill="#111"/>
<circle cx="415.5" cy="1009.3" r="2.2" fill="#111"/>
<circle cx="421.6" cy="1007.5" r="2.2" fill="#111"/>
<circle cx="426.3" cy="1018.6" r="2.2" fill="#111"/>
<circle cx="432.4" cy="1026.2" r="2.2" fill="#111"/>
<circle cx="438.8" cy="1035.5" r="2.2" fill="#111"/>
<circle cx="446.4" cy="1052.8" r="2.2" fill="#111"/>
<circle cx="452.6" cy="1060.7" r="2.2" fill="#111"/>
<circle cx="468.0" cy="1074.7" r="2.2" fill="#111"/>
<circle cx="482.0" cy="1076.1" r="2.2" fill="#111"/>
<circle cx="497.8" cy="1077.9" r="2.2" fill="#111"/>
<circle cx="511.5" cy="1077.6" r="2.2" fill="#111"/>
<circle cx="519.1" cy="1075.8" r="2.2" fill="#111"/>
<line x1="86.1" y1="12.7" x2="86.1" y2="246.4" stroke="#686868" stroke-width="1.3"/>
<line x1="67.0" y1="135.2" x2="128.4" y2="135.2" stroke="#444" stroke-width="1.0"/>
<line x1="82.5" y1="32.7" x2="89.3" y2="32.7" stroke="#686868" stroke-width="1.2"/>
<line x1="83.0" y1="237.0" x2="89.4" y2="237.0" stroke="#444" stroke-width="0.9"/>
<text class="f" x="73.3" y="16.3" font-size="12.2" fill="#111" stroke="#111" stroke-width="0.2">N</text>
<text class="f" x="89.4" y="16.3" font-size="12.2" textLength="16.1" lengthAdjust="spacingAndGlyphs" fill="#111" stroke="#111" stroke-width="0.2">Up</text>
<circle cx="79.7" cy="22.5" r="3.5" fill="#111"/>
<circle cx="91.9" cy="22.5" r="3.3" fill="#fff" stroke="#222" stroke-width="1.0"/>
<text class="f" x="53.6" y="139.6" font-size="12.2" fill="#111" stroke="#111" stroke-width="0.2">W</text>
<text class="f" x="132.0" y="139.6" font-size="12.2" fill="#111" stroke="#111" stroke-width="0.2">E</text>
<text class="f" x="39.1" y="157.6" font-size="9.0" textLength="37.2" lengthAdjust="spacingAndGlyphs" fill="#111" stroke="#111" stroke-width="0.2">1e0 A/m</text>
<text class="f" x="74.4" y="249.0" font-size="12.2" fill="#111" stroke="#111" stroke-width="0.2">S</text>
<text class="f" x="90.3" y="249.0" font-size="12.2" textLength="32.0" lengthAdjust="spacingAndGlyphs" fill="#111" stroke="#111" stroke-width="0.2">Down</text>
<polyline points="109.7,37.2 106.0,32.7 104.0,42.5 99.5,63.0 96.4,81.8 93.4,97.7 91.3,106.7 90.7,112.0 88.2,120.2 87.8,127.0" fill="none" stroke="#333" stroke-width="0.7"/>
<polyline points="88.0,140.6 88.6,150.0 90.6,157.0 91.0,159.0 93.6,170.0 96.6,181.6 99.6,202.4 105.0,222.0 104.6,224.0 106.4,227.4 109.4,216.4" fill="none" stroke="#333" stroke-width="0.7"/>
<circle cx="109.7" cy="37.2" r="4.9" fill="#fff" stroke="#555" stroke-width="0.75"/>
<circle cx="106.0" cy="32.7" r="4.9" fill="#fff" stroke="#555" stroke-width="0.75"/>
<circle cx="104.0" cy="42.5" r="4.9" fill="#fff" stroke="#555" stroke-width="0.75"/>
<circle cx="99.5" cy="63.0" r="4.9" fill="#fff" stroke="#555" stroke-width="0.75"/>
<circle cx="96.4" cy="81.8" r="4.9" fill="#fff" stroke="#555" stroke-width="0.75"/>
<circle cx="93.4" cy="97.7" r="4.9" fill="#fff" stroke="#555" stroke-width="0.75"/>
<circle cx="91.3" cy="106.7" r="4.9" fill="#fff" stroke="#555" stroke-width="0.75"/>
<circle cx="90.7" cy="112.0" r="4.9" fill="#fff" stroke="#555" stroke-width="0.75"/>
<circle cx="88.2" cy="120.2" r="4.9" fill="#fff" stroke="#555" stroke-width="0.75"/>
<circle cx="87.8" cy="127.0" r="4.9" fill="#fff" stroke="#555" stroke-width="0.75"/>
<circle cx="88.0" cy="140.6" r="4.8" fill="#111"/>
<circle cx="88.6" cy="150.0" r="4.8" fill="#111"/>
<circle cx="90.6" cy="157.0" r="4.8" fill="#111"/>
<circle cx="91.0" cy="159.0" r="4.8" fill="#111"/>
<circle cx="93.6" cy="170.0" r="4.8" fill="#111"/>
<circle cx="96.6" cy="181.6" r="4.8" fill="#111"/>
<circle cx="99.6" cy="202.4" r="4.8" fill="#111"/>
<circle cx="105.0" cy="222.0" r="4.8" fill="#111"/>
<circle cx="104.6" cy="224.0" r="4.8" fill="#111"/>
<circle cx="106.4" cy="227.4" r="4.8" fill="#111"/>
<circle cx="109.4" cy="216.4" r="4.8" fill="#111"/>
<line x1="635.8" y1="16.0" x2="635.8" y2="249.3" stroke="#444" stroke-width="0.9"/>
<line x1="616.2" y1="131.8" x2="671.9" y2="131.8" stroke="#686868" stroke-width="1.3"/>
<line x1="632.8" y1="119.8" x2="638.8" y2="119.8" stroke="#444" stroke-width="0.9"/>
<line x1="632.8" y1="107.8" x2="638.8" y2="107.8" stroke="#444" stroke-width="0.9"/>
<line x1="632.8" y1="95.8" x2="638.8" y2="95.8" stroke="#444" stroke-width="0.9"/>
<line x1="632.8" y1="83.8" x2="638.8" y2="83.8" stroke="#444" stroke-width="0.9"/>
<line x1="632.8" y1="71.8" x2="638.8" y2="71.8" stroke="#444" stroke-width="0.9"/>
<line x1="632.8" y1="59.8" x2="638.8" y2="59.8" stroke="#444" stroke-width="0.9"/>
<line x1="632.8" y1="47.8" x2="638.8" y2="47.8" stroke="#444" stroke-width="0.9"/>
<line x1="632.8" y1="35.8" x2="638.8" y2="35.8" stroke="#444" stroke-width="0.9"/>
<line x1="632.8" y1="23.8" x2="638.8" y2="23.8" stroke="#444" stroke-width="0.9"/>
<line x1="632.8" y1="155.8" x2="638.8" y2="155.8" stroke="#444" stroke-width="0.9"/>
<line x1="632.8" y1="167.8" x2="638.8" y2="167.8" stroke="#444" stroke-width="0.9"/>
<line x1="632.8" y1="179.8" x2="638.8" y2="179.8" stroke="#444" stroke-width="0.9"/>
<line x1="632.8" y1="191.8" x2="638.8" y2="191.8" stroke="#444" stroke-width="0.9"/>
<line x1="632.8" y1="203.8" x2="638.8" y2="203.8" stroke="#444" stroke-width="0.9"/>
<line x1="632.8" y1="215.8" x2="638.8" y2="215.8" stroke="#444" stroke-width="0.9"/>
<line x1="632.8" y1="227.8" x2="638.8" y2="227.8" stroke="#444" stroke-width="0.9"/>
<line x1="632.8" y1="239.8" x2="638.8" y2="239.8" stroke="#444" stroke-width="0.9"/>
<line x1="623.4" y1="128.8" x2="623.4" y2="134.8" stroke="#444" stroke-width="0.9"/>
<line x1="647.6" y1="128.8" x2="647.6" y2="134.8" stroke="#444" stroke-width="0.9"/>
<line x1="659.5" y1="128.8" x2="659.5" y2="134.8" stroke="#444" stroke-width="0.9"/>
<line x1="671.6" y1="128.8" x2="671.6" y2="134.8" stroke="#444" stroke-width="0.9"/>
<text class="f" x="623.4" y="18.0" font-size="12.2" fill="#111" stroke="#111" stroke-width="0.2">N</text>
<text class="f" x="639.4" y="18.0" font-size="12.2" textLength="16.5" lengthAdjust="spacingAndGlyphs" fill="#111" stroke="#111" stroke-width="0.2">Up</text>
<circle cx="625.9" cy="28.9" r="3.7" fill="#111"/>
<text class="f" x="600.7" y="136.5" font-size="12.2" fill="#111" stroke="#111" stroke-width="0.2">W</text>
<text class="f" x="677.4" y="136.5" font-size="12.2" fill="#111" stroke="#111" stroke-width="0.2">E</text>
<text class="f" x="594.9" y="150.3" font-size="7.5" textLength="32.5" lengthAdjust="spacingAndGlyphs" fill="#111" stroke="#111" stroke-width="0.1">1e-1 A/m</text>
<text class="f" x="624.6" y="249.0" font-size="12.2" fill="#111" stroke="#111" stroke-width="0.2">S</text>
<text class="f" x="640.2" y="249.0" font-size="12.2" textLength="32.0" lengthAdjust="spacingAndGlyphs" fill="#111" stroke="#111" stroke-width="0.2">Down</text>
<polyline points="648.6,23.5 653.4,31.6 652.3,35.3 648.4,36.1 650.2,42.0 649.4,47.8 647.7,54.7 646.4,68.5 645.5,70.5 643.9,78.4 642.5,92.7 636.3,124.6 635.8,131.5" fill="none" stroke="#333" stroke-width="0.7"/>
<polyline points="635.8,131.5 642.2,165.4 644.4,184.4 646.4,191.8 646.9,194.8 648.4,212.1 650.6,216.9 649.2,224.2 653.1,228.3 654.4,234.7 652.3,239.3" fill="none" stroke="#333" stroke-width="0.7"/>
<circle cx="648.6" cy="23.5" r="4.3" fill="#fff" stroke="#555" stroke-width="0.75"/>
<circle cx="653.4" cy="31.6" r="4.3" fill="#fff" stroke="#555" stroke-width="0.75"/>
<circle cx="652.3" cy="35.3" r="4.3" fill="#fff" stroke="#555" stroke-width="0.75"/>
<circle cx="648.4" cy="36.1" r="4.3" fill="#fff" stroke="#555" stroke-width="0.75"/>
<circle cx="650.2" cy="42.0" r="4.3" fill="#fff" stroke="#555" stroke-width="0.75"/>
<circle cx="649.4" cy="47.8" r="4.3" fill="#fff" stroke="#555" stroke-width="0.75"/>
<circle cx="647.7" cy="54.7" r="4.3" fill="#fff" stroke="#555" stroke-width="0.75"/>
<circle cx="646.4" cy="68.5" r="4.3" fill="#fff" stroke="#555" stroke-width="0.75"/>
<circle cx="645.5" cy="70.5" r="4.3" fill="#fff" stroke="#555" stroke-width="0.75"/>
<circle cx="643.9" cy="78.4" r="4.3" fill="#fff" stroke="#555" stroke-width="0.75"/>
<circle cx="642.5" cy="92.7" r="4.3" fill="#fff" stroke="#555" stroke-width="0.75"/>
<circle cx="636.3" cy="124.6" r="4.3" fill="#fff" stroke="#555" stroke-width="0.75"/>
<circle cx="635.8" cy="131.5" r="4.3" fill="#fff" stroke="#555" stroke-width="0.75"/>
<circle cx="642.2" cy="165.4" r="4.2" fill="#111"/>
<circle cx="644.4" cy="184.4" r="4.2" fill="#111"/>
<circle cx="646.4" cy="191.8" r="4.2" fill="#111"/>
<circle cx="646.9" cy="194.8" r="4.2" fill="#111"/>
<circle cx="648.4" cy="212.1" r="4.2" fill="#111"/>
<circle cx="650.6" cy="216.9" r="4.2" fill="#111"/>
<circle cx="649.2" cy="224.2" r="4.2" fill="#111"/>
<circle cx="653.1" cy="228.3" r="4.2" fill="#111"/>
<circle cx="654.4" cy="234.7" r="4.2" fill="#111"/>
<circle cx="652.3" cy="239.3" r="4.2" fill="#111"/>
<line x1="117.3" y1="288.4" x2="117.3" y2="517.5" stroke="#686868" stroke-width="1.2"/>
<line x1="49.0" y1="361.5" x2="135.5" y2="361.5" stroke="#686868" stroke-width="1.2"/>
<line x1="114.4" y1="324.1" x2="120.3" y2="324.1" stroke="#444" stroke-width="1.0"/>
<line x1="114.4" y1="399.3" x2="120.3" y2="399.3" stroke="#444" stroke-width="1.0"/>
<line x1="114.4" y1="437.2" x2="120.3" y2="437.2" stroke="#444" stroke-width="1.0"/>
<line x1="114.4" y1="474.4" x2="120.3" y2="474.4" stroke="#444" stroke-width="1.0"/>
<line x1="114.4" y1="512.2" x2="120.3" y2="512.2" stroke="#444" stroke-width="1.0"/>
<line x1="79.4" y1="358.4" x2="79.4" y2="364.4" stroke="#444" stroke-width="1.0"/>
<text class="f" x="104.6" y="288.4" font-size="8.0" fill="#111" stroke="#111" stroke-width="0.1">N</text>
<text class="f" x="116.0" y="288.4" font-size="8.0" textLength="11.6" lengthAdjust="spacingAndGlyphs" fill="#111" stroke="#111" stroke-width="0.1">Up</text>
<circle cx="106.3" cy="296.8" r="4.9" fill="#111"/>
<circle cx="127.8" cy="296.8" r="4.7" fill="#fff" stroke="#222" stroke-width="1.0"/>
<text class="f" x="39.2" y="364.3" font-size="8.6" fill="#111" stroke="#111" stroke-width="0.1">W</text>
<text class="f" x="139.5" y="364.3" font-size="8.6" fill="#111" stroke="#111" stroke-width="0.1">E</text>
<text class="f" x="54.1" y="381.1" font-size="6.7" textLength="28.4" lengthAdjust="spacingAndGlyphs" fill="#111" stroke="#111" stroke-width="0.1">1e-1 A/m</text>
<text class="f" x="109.3" y="525.2" font-size="8.6" fill="#111" stroke="#111" stroke-width="0.1">S</text>
<text class="f" x="119.8" y="525.2" font-size="8.6" textLength="22.9" lengthAdjust="spacingAndGlyphs" fill="#111" stroke="#111" stroke-width="0.1">Down</text>
<polyline points="67.7,360.8 81.8,335.5 85.7,318.3 92.3,311.7 100.4,315.9 96.9,324.1 105.6,329.9 107.5,345.1 112.1,352.6 116.8,354.9 113.8,361.9" fill="none" stroke="#333" stroke-width="0.7"/>
<polyline points="117.3,377.1 113.5,381.4 112.9,387.1 107.2,413.1 105.5,441.0 97.4,464.8 100.2,476.3 92.1,499.1 85.4,496.3 81.8,464.8 67.4,441.6" fill="none" stroke="#333" stroke-width="0.7"/>
<circle cx="67.7" cy="360.8" r="4.8" fill="#fff" stroke="#555" stroke-width="0.75"/>
<circle cx="81.8" cy="335.5" r="4.8" fill="#fff" stroke="#555" stroke-width="0.75"/>
<circle cx="85.7" cy="318.3" r="4.8" fill="#fff" stroke="#555" stroke-width="0.75"/>
<circle cx="92.3" cy="311.7" r="4.8" fill="#fff" stroke="#555" stroke-width="0.75"/>
<circle cx="100.4" cy="315.9" r="4.8" fill="#fff" stroke="#555" stroke-width="0.75"/>
<circle cx="96.9" cy="324.1" r="4.8" fill="#fff" stroke="#555" stroke-width="0.75"/>
<circle cx="105.6" cy="329.9" r="4.8" fill="#fff" stroke="#555" stroke-width="0.75"/>
<circle cx="107.5" cy="345.1" r="4.8" fill="#fff" stroke="#555" stroke-width="0.75"/>
<circle cx="112.1" cy="352.6" r="4.8" fill="#fff" stroke="#555" stroke-width="0.75"/>
<circle cx="116.8" cy="354.9" r="4.8" fill="#fff" stroke="#555" stroke-width="0.75"/>
<circle cx="113.8" cy="361.9" r="4.8" fill="#fff" stroke="#555" stroke-width="0.75"/>
<circle cx="117.3" cy="377.1" r="4.7" fill="#111"/>
<circle cx="113.5" cy="381.4" r="4.7" fill="#111"/>
<circle cx="112.9" cy="387.1" r="4.7" fill="#111"/>
<circle cx="107.2" cy="413.1" r="4.7" fill="#111"/>
<circle cx="105.5" cy="441.0" r="4.7" fill="#111"/>
<circle cx="97.4" cy="464.8" r="4.7" fill="#111"/>
<circle cx="100.2" cy="476.3" r="4.7" fill="#111"/>
<circle cx="92.1" cy="499.1" r="4.7" fill="#111"/>
<circle cx="85.4" cy="496.3" r="4.7" fill="#111"/>
<circle cx="81.8" cy="464.8" r="4.7" fill="#111"/>
<circle cx="67.4" cy="441.6" r="4.7" fill="#111"/>
<line x1="646.4" y1="284.3" x2="646.4" y2="520.3" stroke="#555" stroke-width="1.0"/>
<line x1="598.5" y1="375.4" x2="673.6" y2="375.4" stroke="#555" stroke-width="1.0"/>
<line x1="603.1" y1="371.6" x2="603.1" y2="379.2" stroke="#444" stroke-width="0.9"/>
<line x1="667.4" y1="371.6" x2="667.4" y2="379.2" stroke="#444" stroke-width="0.9"/>
<line x1="642.5" y1="438.9" x2="650.3" y2="438.9" stroke="#444" stroke-width="0.9"/>
<line x1="642.5" y1="482.0" x2="650.3" y2="482.0" stroke="#444" stroke-width="0.9"/>
<line x1="642.5" y1="503.5" x2="650.3" y2="503.5" stroke="#444" stroke-width="0.9"/>
<text class="f" x="636.0" y="289.8" font-size="9.8" fill="#111" stroke="#111" stroke-width="0.2">N</text>
<text class="f" x="649.4" y="289.8" font-size="9.8" textLength="12.9" lengthAdjust="spacingAndGlyphs" fill="#111" stroke="#111" stroke-width="0.2">Up</text>
<text class="f" x="588.2" y="380.0" font-size="10.4" fill="#111" stroke="#111" stroke-width="0.2">W</text>
<text class="f" x="679.1" y="380.0" font-size="10.4" fill="#111" stroke="#111" stroke-width="0.2">E</text>
<text class="f" x="596.6" y="393.4" font-size="7.9" textLength="32.8" lengthAdjust="spacingAndGlyphs" fill="#111" stroke="#111" stroke-width="0.1">1e-1 A/m</text>
<text class="f" x="636.0" y="524.0" font-size="10.1" fill="#111" stroke="#111" stroke-width="0.2">S</text>
<text class="f" x="648.6" y="524.0" font-size="10.1" textLength="25.8" lengthAdjust="spacingAndGlyphs" fill="#111" stroke="#111" stroke-width="0.2">Down</text>
<polyline points="617.5,305.6 633.0,305.3 643.0,312.8 653.9,317.0 648.9,335.5 645.9,343.0 643.5,355.6 645.0,361.5 646.4,367.4 646.4,370.7" fill="none" stroke="#333" stroke-width="0.7"/>
<polyline points="646.7,380.1 645.5,384.3 645.2,391.0 643.4,396.6 646.0,418.7 648.6,431.3 654.3,445.9 643.4,462.9 633.0,485.9 617.5,501.8" fill="none" stroke="#333" stroke-width="0.7"/>
<circle cx="617.5" cy="305.6" r="4.8" fill="#111"/>
<circle cx="633.0" cy="305.3" r="4.8" fill="#111"/>
<circle cx="643.0" cy="312.8" r="4.8" fill="#111"/>
<circle cx="653.9" cy="317.0" r="4.8" fill="#111"/>
<circle cx="648.9" cy="335.5" r="4.8" fill="#111"/>
<circle cx="645.9" cy="343.0" r="4.8" fill="#111"/>
<circle cx="643.5" cy="355.6" r="4.8" fill="#111"/>
<circle cx="645.0" cy="361.5" r="4.8" fill="#111"/>
<circle cx="646.4" cy="367.4" r="4.8" fill="#111"/>
<circle cx="646.4" cy="370.7" r="4.8" fill="#111"/>
<circle cx="617.5" cy="501.8" r="4.9" fill="#fff" stroke="#555" stroke-width="0.75"/>
<circle cx="633.0" cy="485.9" r="4.9" fill="#fff" stroke="#555" stroke-width="0.75"/>
<circle cx="643.4" cy="462.9" r="4.9" fill="#fff" stroke="#555" stroke-width="0.75"/>
<circle cx="654.3" cy="445.9" r="4.9" fill="#fff" stroke="#555" stroke-width="0.75"/>
<circle cx="648.6" cy="431.3" r="4.9" fill="#fff" stroke="#555" stroke-width="0.75"/>
<circle cx="646.0" cy="418.7" r="4.9" fill="#fff" stroke="#555" stroke-width="0.75"/>
<circle cx="643.4" cy="396.6" r="4.9" fill="#fff" stroke="#555" stroke-width="0.75"/>
<circle cx="645.2" cy="391.0" r="4.9" fill="#fff" stroke="#555" stroke-width="0.75"/>
<circle cx="645.5" cy="384.3" r="4.9" fill="#fff" stroke="#555" stroke-width="0.75"/>
<circle cx="646.7" cy="380.1" r="4.9" fill="#fff" stroke="#555" stroke-width="0.75"/>
<line x1="116.7" y1="571.1" x2="116.7" y2="811.0" stroke="#444" stroke-width="0.9"/>
<line x1="95.6" y1="696.6" x2="140.6" y2="696.6" stroke="#444" stroke-width="0.9"/>
<line x1="114.2" y1="681.1" x2="119.2" y2="681.1" stroke="#444" stroke-width="0.9"/>
<line x1="114.2" y1="665.7" x2="119.2" y2="665.7" stroke="#444" stroke-width="0.9"/>
<line x1="114.2" y1="650.2" x2="119.2" y2="650.2" stroke="#444" stroke-width="0.9"/>
<line x1="114.2" y1="634.8" x2="119.2" y2="634.8" stroke="#444" stroke-width="0.9"/>
<line x1="114.2" y1="619.4" x2="119.2" y2="619.4" stroke="#444" stroke-width="0.9"/>
<line x1="114.2" y1="603.9" x2="119.2" y2="603.9" stroke="#444" stroke-width="0.9"/>
<line x1="114.2" y1="588.5" x2="119.2" y2="588.5" stroke="#444" stroke-width="0.9"/>
<line x1="114.2" y1="573.0" x2="119.2" y2="573.0" stroke="#444" stroke-width="0.9"/>
<line x1="114.2" y1="743.1" x2="119.2" y2="743.1" stroke="#444" stroke-width="0.9"/>
<line x1="114.2" y1="758.6" x2="119.2" y2="758.6" stroke="#444" stroke-width="0.9"/>
<line x1="114.2" y1="774.1" x2="119.2" y2="774.1" stroke="#444" stroke-width="0.9"/>
<line x1="114.2" y1="805.1" x2="119.2" y2="805.1" stroke="#444" stroke-width="0.9"/>
<line x1="100.9" y1="693.6" x2="100.9" y2="699.6" stroke="#444" stroke-width="0.9"/>
<line x1="132.4" y1="693.6" x2="132.4" y2="699.6" stroke="#444" stroke-width="0.9"/>
<text class="f" x="103.0" y="574.0" font-size="12.2" fill="#111" stroke="#111" stroke-width="0.2">N</text>
<text class="f" x="120.1" y="574.0" font-size="12.2" textLength="16.7" lengthAdjust="spacingAndGlyphs" fill="#111" stroke="#111" stroke-width="0.2">Up</text>
<circle cx="110.0" cy="579.8" r="3.2" fill="#111"/>
<circle cx="122.4" cy="579.8" r="3.3" fill="#fff" stroke="#222" stroke-width="1.0"/>
<text class="f" x="83.3" y="701.1" font-size="12.2" fill="#111" stroke="#111" stroke-width="0.2">W</text>
<text class="f" x="144.8" y="701.1" font-size="12.2" fill="#111" stroke="#111" stroke-width="0.2">E</text>
<text class="f" x="63.8" y="717.0" font-size="9.4" textLength="41.5" lengthAdjust="spacingAndGlyphs" fill="#111" stroke="#111" stroke-width="0.2">1e-1 A/m</text>
<text class="f" x="105.4" y="814.1" font-size="12.2" fill="#111" stroke="#111" stroke-width="0.2">S</text>
<text class="f" x="121.4" y="814.1" font-size="12.2" textLength="32.7" lengthAdjust="spacingAndGlyphs" fill="#111" stroke="#111" stroke-width="0.2">Down</text>
<polyline points="119.6,590.2 120.9,646.3 117.9,656.7 118.6,667.9 117.2,670.4 116.7,676.6 116.7,680.3" fill="none" stroke="#333" stroke-width="0.7"/>
<polyline points="115.9,688.2 116.0,692.5 116.6,698.6 117.0,705.8 116.6,712.9 118.7,718.0 117.7,730.3 121.7,745.2 118.7,791.0" fill="none" stroke="#333" stroke-width="0.7"/>
<circle cx="119.6" cy="590.2" r="4.7" fill="#111"/>
<circle cx="120.9" cy="646.3" r="4.7" fill="#111"/>
<circle cx="117.9" cy="656.7" r="4.7" fill="#111"/>
<circle cx="118.6" cy="667.9" r="4.7" fill="#111"/>
<circle cx="117.2" cy="670.4" r="4.7" fill="#111"/>
<circle cx="116.7" cy="676.6" r="4.7" fill="#111"/>
<circle cx="116.7" cy="680.3" r="4.7" fill="#111"/>
<circle cx="118.7" cy="791.0" r="4.8" fill="#fff" stroke="#555" stroke-width="0.75"/>
<circle cx="121.7" cy="745.2" r="4.8" fill="#fff" stroke="#555" stroke-width="0.75"/>
<circle cx="117.7" cy="730.3" r="4.8" fill="#fff" stroke="#555" stroke-width="0.75"/>
<circle cx="118.7" cy="718.0" r="4.8" fill="#fff" stroke="#555" stroke-width="0.75"/>
<circle cx="116.6" cy="712.9" r="4.8" fill="#fff" stroke="#555" stroke-width="0.75"/>
<circle cx="117.0" cy="705.8" r="4.8" fill="#fff" stroke="#555" stroke-width="0.75"/>
<circle cx="116.6" cy="698.6" r="4.8" fill="#fff" stroke="#555" stroke-width="0.75"/>
<circle cx="116.0" cy="692.5" r="4.8" fill="#fff" stroke="#555" stroke-width="0.75"/>
<circle cx="115.9" cy="688.2" r="4.8" fill="#fff" stroke="#555" stroke-width="0.75"/>
<line x1="601.1" y1="599.6" x2="601.1" y2="800.3" stroke="#686868" stroke-width="1.2"/>
<line x1="547.0" y1="672.5" x2="618.2" y2="672.5" stroke="#686868" stroke-width="1.2"/>
<line x1="598.4" y1="617.1" x2="604.0" y2="617.1" stroke="#444" stroke-width="0.9"/>
<line x1="598.4" y1="645.1" x2="604.0" y2="645.1" stroke="#444" stroke-width="0.9"/>
<line x1="598.4" y1="701.1" x2="604.0" y2="701.1" stroke="#444" stroke-width="0.9"/>
<line x1="598.4" y1="729.1" x2="604.0" y2="729.1" stroke="#444" stroke-width="0.9"/>
<line x1="598.4" y1="756.9" x2="604.0" y2="756.9" stroke="#444" stroke-width="0.9"/>
<line x1="598.4" y1="784.5" x2="604.0" y2="784.5" stroke="#444" stroke-width="0.9"/>
<line x1="572.7" y1="669.7" x2="572.7" y2="675.3" stroke="#444" stroke-width="0.9"/>
<text class="f" x="589.5" y="595.6" font-size="9.0" fill="#111" stroke="#111" stroke-width="0.2">N</text>
<text class="f" x="603.0" y="595.6" font-size="9.0" textLength="12.9" lengthAdjust="spacingAndGlyphs" fill="#111" stroke="#111" stroke-width="0.2">Up</text>
<circle cx="592.4" cy="604.4" r="4.2" fill="#111"/>
<circle cx="612.1" cy="604.4" r="4.2" fill="#fff" stroke="#222" stroke-width="1.0"/>
<text class="f" x="537.0" y="674.9" font-size="9.7" fill="#111" stroke="#111" stroke-width="0.2">W</text>
<text class="f" x="621.0" y="674.9" font-size="9.7" fill="#111" stroke="#111" stroke-width="0.2">E</text>
<text class="f" x="547.8" y="687.6" font-size="9.5" textLength="41.1" lengthAdjust="spacingAndGlyphs" fill="#111" stroke="#111" stroke-width="0.2">1e-1 A/m</text>
<text class="f" x="589.5" y="808.6" font-size="10.0" fill="#111" stroke="#111" stroke-width="0.2">S</text>
<text class="f" x="602.6" y="808.6" font-size="10.0" textLength="25.8" lengthAdjust="spacingAndGlyphs" fill="#111" stroke="#111" stroke-width="0.2">Down</text>
<polyline points="563.0,633.9 571.8,628.7 581.0,616.6 581.4,621.5 586.9,627.6 591.9,635.0 594.1,640.5 597.4,651.0 598.1,656.1 599.2,664.2" fill="none" stroke="#333" stroke-width="0.7"/>
<polyline points="599.2,695.2 598.1,709.4 597.4,719.9 594.1,733.5 591.9,746.2 586.9,762.4 582.1,778.8 580.5,784.5 571.8,777.3 563.5,760.4" fill="none" stroke="#333" stroke-width="0.7"/>
<circle cx="563.0" cy="633.9" r="4.3" fill="#fff" stroke="#555" stroke-width="0.75"/>
<circle cx="571.8" cy="628.7" r="4.3" fill="#fff" stroke="#555" stroke-width="0.75"/>
<circle cx="581.0" cy="616.6" r="4.3" fill="#fff" stroke="#555" stroke-width="0.75"/>
<circle cx="581.4" cy="621.5" r="4.3" fill="#fff" stroke="#555" stroke-width="0.75"/>
<circle cx="586.9" cy="627.6" r="4.3" fill="#fff" stroke="#555" stroke-width="0.75"/>
<circle cx="591.9" cy="635.0" r="4.3" fill="#fff" stroke="#555" stroke-width="0.75"/>
<circle cx="594.1" cy="640.5" r="4.3" fill="#fff" stroke="#555" stroke-width="0.75"/>
<circle cx="597.4" cy="651.0" r="4.3" fill="#fff" stroke="#555" stroke-width="0.75"/>
<circle cx="598.1" cy="656.1" r="4.3" fill="#fff" stroke="#555" stroke-width="0.75"/>
<circle cx="599.2" cy="664.2" r="4.3" fill="#fff" stroke="#555" stroke-width="0.75"/>
<circle cx="599.2" cy="695.2" r="4.4" fill="#111"/>
<circle cx="598.1" cy="709.4" r="4.4" fill="#111"/>
<circle cx="597.4" cy="719.9" r="4.4" fill="#111"/>
<circle cx="594.1" cy="733.5" r="4.4" fill="#111"/>
<circle cx="591.9" cy="746.2" r="4.4" fill="#111"/>
<circle cx="586.9" cy="762.4" r="4.4" fill="#111"/>
<circle cx="582.1" cy="778.8" r="4.4" fill="#111"/>
<circle cx="580.5" cy="784.5" r="4.4" fill="#111"/>
<circle cx="571.8" cy="777.3" r="4.4" fill="#111"/>
<circle cx="563.5" cy="760.4" r="4.4" fill="#111"/>
<line x1="98.3" y1="861.0" x2="98.3" y2="1104.0" stroke="#686868" stroke-width="1.3"/>
<line x1="73.9" y1="979.2" x2="138.9" y2="979.2" stroke="#686868" stroke-width="1.2"/>
<line x1="95.3" y1="965.0" x2="101.3" y2="965.0" stroke="#444" stroke-width="0.9"/>
<line x1="95.3" y1="993.4" x2="101.3" y2="993.4" stroke="#444" stroke-width="0.9"/>
<line x1="95.3" y1="950.8" x2="101.3" y2="950.8" stroke="#444" stroke-width="0.9"/>
<line x1="95.3" y1="1007.6" x2="101.3" y2="1007.6" stroke="#444" stroke-width="0.9"/>
<line x1="95.3" y1="936.6" x2="101.3" y2="936.6" stroke="#444" stroke-width="0.9"/>
<line x1="95.3" y1="1021.8" x2="101.3" y2="1021.8" stroke="#444" stroke-width="0.9"/>
<line x1="95.3" y1="922.4" x2="101.3" y2="922.4" stroke="#444" stroke-width="0.9"/>
<line x1="95.3" y1="1036.0" x2="101.3" y2="1036.0" stroke="#444" stroke-width="0.9"/>
<line x1="95.3" y1="908.2" x2="101.3" y2="908.2" stroke="#444" stroke-width="0.9"/>
<line x1="95.3" y1="1050.2" x2="101.3" y2="1050.2" stroke="#444" stroke-width="0.9"/>
<line x1="95.3" y1="894.0" x2="101.3" y2="894.0" stroke="#444" stroke-width="0.9"/>
<line x1="95.3" y1="1064.4" x2="101.3" y2="1064.4" stroke="#444" stroke-width="0.9"/>
<line x1="95.3" y1="879.8" x2="101.3" y2="879.8" stroke="#444" stroke-width="0.9"/>
<line x1="95.3" y1="1078.6" x2="101.3" y2="1078.6" stroke="#444" stroke-width="0.9"/>
<line x1="95.3" y1="865.6" x2="101.3" y2="865.6" stroke="#444" stroke-width="0.9"/>
<line x1="95.3" y1="1092.8" x2="101.3" y2="1092.8" stroke="#444" stroke-width="0.9"/>
<line x1="83.9" y1="976.2" x2="83.9" y2="982.2" stroke="#444" stroke-width="0.9"/>
<line x1="112.3" y1="976.2" x2="112.3" y2="982.2" stroke="#444" stroke-width="0.9"/>
<line x1="126.5" y1="976.2" x2="126.5" y2="982.2" stroke="#444" stroke-width="0.9"/>
<text class="f" x="84.4" y="866.0" font-size="12.2" fill="#111" stroke="#111" stroke-width="0.2">N</text>
<text class="f" x="102.0" y="866.0" font-size="12.2" textLength="17.4" lengthAdjust="spacingAndGlyphs" fill="#111" stroke="#111" stroke-width="0.2">Up</text>
<circle cx="87.4" cy="872.9" r="3.5" fill="#111"/>
<circle cx="111.7" cy="872.9" r="3.3" fill="#fff" stroke="#222" stroke-width="1.0"/>
<text class="f" x="63.7" y="983.3" font-size="12.2" fill="#111" stroke="#111" stroke-width="0.2">W</text>
<text class="f" x="144.9" y="983.3" font-size="12.2" fill="#111" stroke="#111" stroke-width="0.2">E</text>
<text class="f" x="47.1" y="996.0" font-size="9.4" textLength="41.0" lengthAdjust="spacingAndGlyphs" fill="#111" stroke="#111" stroke-width="0.2">1e-1 A/m</text>
<text class="f" x="86.2" y="1102.9" font-size="12.2" fill="#111" stroke="#111" stroke-width="0.2">S</text>
<text class="f" x="101.6" y="1102.9" font-size="12.2" textLength="34.0" lengthAdjust="spacingAndGlyphs" fill="#111" stroke="#111" stroke-width="0.2">Down</text>
<polyline points="93.1,879.9 111.7,880.4 119.1,908.4 112.2,921.1 108.7,934.7 106.7,945.7 106.2,954.8 103.7,960.1 102.3,967.3 101.3,972.7 101.0,976.4" fill="none" stroke="#333" stroke-width="0.7"/>
<polyline points="100.9,982.7 101.5,987.8 102.6,990.9 104.0,999.7 106.0,1006.6 107.0,1017.0 109.1,1027.3 112.2,1039.5 118.5,1055.3 111.3,1073.0 93.4,1083.3" fill="none" stroke="#333" stroke-width="0.7"/>
<circle cx="93.1" cy="879.9" r="3.7" fill="#111"/>
<circle cx="111.7" cy="880.4" r="3.7" fill="#111"/>
<circle cx="119.1" cy="908.4" r="3.7" fill="#111"/>
<circle cx="112.2" cy="921.1" r="3.7" fill="#111"/>
<circle cx="108.7" cy="934.7" r="3.7" fill="#111"/>
<circle cx="106.7" cy="945.7" r="3.7" fill="#111"/>
<circle cx="106.2" cy="954.8" r="3.7" fill="#111"/>
<circle cx="103.7" cy="960.1" r="3.7" fill="#111"/>
<circle cx="102.3" cy="967.3" r="3.7" fill="#111"/>
<circle cx="101.3" cy="972.7" r="3.7" fill="#111"/>
<circle cx="101.0" cy="976.4" r="3.7" fill="#111"/>
<circle cx="100.9" cy="982.7" r="3.5" fill="#fff" stroke="#333" stroke-width="0.9"/>
<circle cx="101.5" cy="987.8" r="3.5" fill="#fff" stroke="#333" stroke-width="0.9"/>
<circle cx="102.6" cy="990.9" r="3.5" fill="#fff" stroke="#333" stroke-width="0.9"/>
<circle cx="104.0" cy="999.7" r="3.5" fill="#fff" stroke="#333" stroke-width="0.9"/>
<circle cx="106.0" cy="1006.6" r="3.5" fill="#fff" stroke="#333" stroke-width="0.9"/>
<circle cx="107.0" cy="1017.0" r="3.5" fill="#fff" stroke="#333" stroke-width="0.9"/>
<circle cx="109.1" cy="1027.3" r="3.5" fill="#fff" stroke="#333" stroke-width="0.9"/>
<circle cx="112.2" cy="1039.5" r="3.5" fill="#fff" stroke="#333" stroke-width="0.9"/>
<circle cx="118.5" cy="1055.3" r="3.5" fill="#fff" stroke="#333" stroke-width="0.9"/>
<circle cx="111.3" cy="1073.0" r="3.5" fill="#fff" stroke="#333" stroke-width="0.9"/>
<circle cx="93.4" cy="1083.3" r="3.5" fill="#fff" stroke="#333" stroke-width="0.9"/>
<line x1="580.3" y1="853.6" x2="580.3" y2="1099.5" stroke="#555" stroke-width="1.0"/>
<line x1="559.5" y1="1007.1" x2="613.4" y2="1007.1" stroke="#444" stroke-width="0.9"/>
<line x1="577.3" y1="861.3" x2="583.3" y2="861.3" stroke="#444" stroke-width="0.9"/>
<line x1="577.3" y1="910.1" x2="583.3" y2="910.1" stroke="#444" stroke-width="0.9"/>
<line x1="577.3" y1="958.7" x2="583.3" y2="958.7" stroke="#444" stroke-width="0.9"/>
<line x1="577.3" y1="1055.7" x2="583.3" y2="1055.7" stroke="#444" stroke-width="0.9"/>
<text class="f" x="566.7" y="859.1" font-size="12.3" fill="#111" stroke="#111" stroke-width="0.2">N</text>
<text class="f" x="585.1" y="859.1" font-size="12.3" textLength="15.9" lengthAdjust="spacingAndGlyphs" fill="#111" stroke="#111" stroke-width="0.2">Up</text>
<circle cx="570.0" cy="866.7" r="3.7" fill="#111"/>
<circle cx="593.7" cy="867.2" r="3.5" fill="#fff" stroke="#222" stroke-width="1.0"/>
<text class="f" x="548.6" y="1012.4" font-size="12.3" fill="#111" stroke="#111" stroke-width="0.2">W</text>
<text class="f" x="619.7" y="1012.4" font-size="12.3" fill="#111" stroke="#111" stroke-width="0.2">E</text>
<text class="f" x="605.9" y="989.6" font-size="9.4" textLength="41.1" lengthAdjust="spacingAndGlyphs" fill="#111" stroke="#111" stroke-width="0.2">1e-1 A/m</text>
<text class="f" x="567.4" y="1099.7" font-size="12.3" fill="#111" stroke="#111" stroke-width="0.2">S</text>
<text class="f" x="584.4" y="1099.7" font-size="12.3" textLength="33.7" lengthAdjust="spacingAndGlyphs" fill="#111" stroke="#111" stroke-width="0.2">Down</text>
<polyline points="586.9,873.3 593.0,875.5 585.8,944.0 582.7,942.3 584.3,948.9 584.9,956.1 582.1,964.2 580.3,978.0 582.7,986.0 578.1,999.9 582.1,999.4 580.5,1001.6" fill="none" stroke="#333" stroke-width="0.7"/>
<polyline points="583.2,1011.5 578.1,1011.9 583.2,1019.6 579.9,1023.5 581.4,1031.6 584.9,1037.3 583.8,1043.2 586.0,1051.5 582.7,1052.6 593.0,1077.1" fill="none" stroke="#333" stroke-width="0.7"/>
<polyline points="593.0,1077.1 586.9,1079.8" fill="none" stroke="#333" stroke-width="0.7"/>
<circle cx="586.9" cy="873.3" r="3.7" fill="#111"/>
<circle cx="593.0" cy="875.5" r="3.7" fill="#111"/>
<circle cx="585.8" cy="944.0" r="3.7" fill="#111"/>
<circle cx="582.7" cy="942.3" r="3.7" fill="#111"/>
<circle cx="584.3" cy="948.9" r="3.7" fill="#111"/>
<circle cx="584.9" cy="956.1" r="3.7" fill="#111"/>
<circle cx="582.1" cy="964.2" r="3.7" fill="#111"/>
<circle cx="580.3" cy="978.0" r="3.7" fill="#111"/>
<circle cx="582.7" cy="986.0" r="3.7" fill="#111"/>
<circle cx="578.1" cy="999.9" r="3.7" fill="#111"/>
<circle cx="582.1" cy="999.4" r="3.7" fill="#111"/>
<circle cx="580.5" cy="1001.6" r="3.7" fill="#111"/>
<circle cx="583.2" cy="1011.5" r="3.6" fill="#fff" stroke="#333" stroke-width="0.85"/>
<circle cx="578.1" cy="1011.9" r="3.6" fill="#fff" stroke="#333" stroke-width="0.85"/>
<circle cx="583.2" cy="1019.6" r="3.6" fill="#fff" stroke="#333" stroke-width="0.85"/>
<circle cx="579.9" cy="1023.5" r="3.6" fill="#fff" stroke="#333" stroke-width="0.85"/>
<circle cx="581.4" cy="1031.6" r="3.6" fill="#fff" stroke="#333" stroke-width="0.85"/>
<circle cx="584.9" cy="1037.3" r="3.6" fill="#fff" stroke="#333" stroke-width="0.85"/>
<circle cx="583.8" cy="1043.2" r="3.6" fill="#fff" stroke="#333" stroke-width="0.85"/>
<circle cx="586.0" cy="1051.5" r="3.6" fill="#fff" stroke="#333" stroke-width="0.85"/>
<circle cx="582.7" cy="1052.6" r="3.6" fill="#fff" stroke="#333" stroke-width="0.85"/>
<circle cx="593.0" cy="1077.1" r="3.6" fill="#fff" stroke="#333" stroke-width="0.85"/>
<circle cx="586.9" cy="1079.8" r="3.6" fill="#fff" stroke="#333" stroke-width="0.85"/>
</svg>
</body>
</html>
